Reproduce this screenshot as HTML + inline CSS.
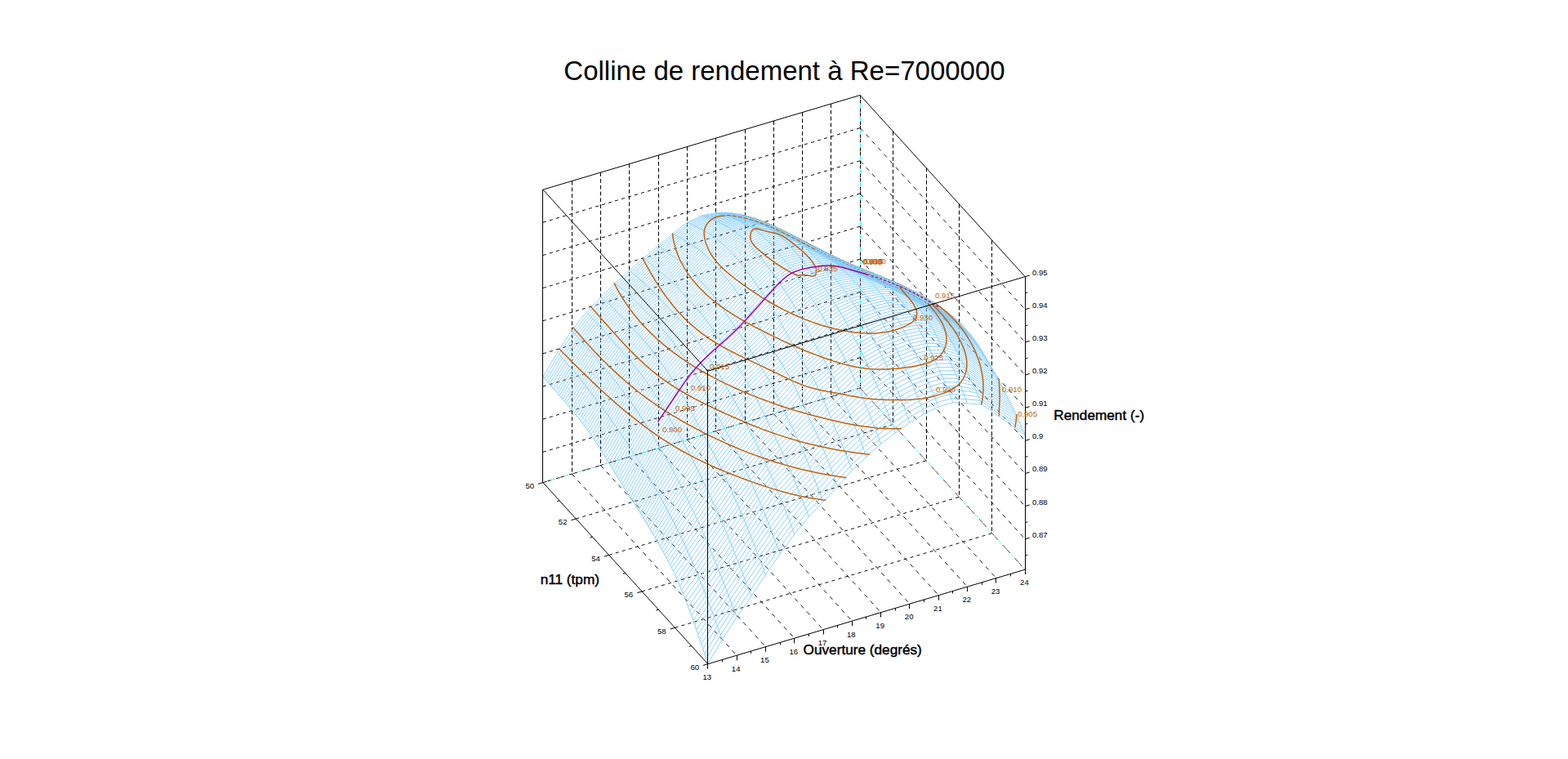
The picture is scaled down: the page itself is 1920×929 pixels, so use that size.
<!DOCTYPE html>
<html><head><meta charset="utf-8"><title>Colline de rendement</title>
<style>html,body{margin:0;padding:0;background:#fff;overflow:hidden}body{width:1920px;height:929px;position:relative;font-family:"Liberation Sans",sans-serif}</style></head>
<body>
<svg width="1920" height="929" viewBox="0 0 1920 929" style="position:absolute;left:0;top:0">
<rect width="1920" height="929" fill="#fff"/>
<g id="grid" fill="none" stroke="#000"><path d="M700.2 580.1L902.1 802.2" stroke-width="0.92" stroke-dasharray="5.27 5.54"/><path d="M735.5 569.6L937.4 791.7" stroke-width="0.92" stroke-dasharray="5.27 5.54"/><path d="M770.8 559.1L972.7 781.2" stroke-width="0.92" stroke-dasharray="5.27 5.54"/><path d="M806.1 548.6L1008 770.7" stroke-width="0.92" stroke-dasharray="5.27 5.54"/><path d="M841.4 538.1L1043.3 760.2" stroke-width="0.92" stroke-dasharray="5.27 5.54"/><path d="M876.7 527.5L1078.6 749.6" stroke-width="0.92" stroke-dasharray="5.27 5.54"/><path d="M912 517L1113.9 739.1" stroke-width="0.92" stroke-dasharray="5.27 5.54"/><path d="M947.3 506.5L1149.2 728.6" stroke-width="0.92" stroke-dasharray="5.27 5.54"/><path d="M982.6 496L1184.5 718.1" stroke-width="0.92" stroke-dasharray="5.27 5.54"/><path d="M1017.9 485.5L1219.8 707.6" stroke-width="0.92" stroke-dasharray="5.27 5.54"/><path d="M705.3 635L1093.6 519.4" stroke-width="0.96" stroke-dasharray="4.07 4.28"/><path d="M745.7 679.4L1134 563.8" stroke-width="0.96" stroke-dasharray="4.07 4.28"/><path d="M786 723.9L1174.4 608.3" stroke-width="0.96" stroke-dasharray="4.07 4.28"/><path d="M826.4 768.3L1214.8 652.7" stroke-width="0.96" stroke-dasharray="4.07 4.28"/><path d="M700.5 221.6L700.5 580.1" stroke-width="1.0" stroke-dasharray="4.9 2.9"/><path d="M735.5 211.1L735.5 569.6" stroke-width="1.0" stroke-dasharray="4.9 2.9"/><path d="M770.5 200.6L770.5 559.1" stroke-width="1.0" stroke-dasharray="4.9 2.9"/><path d="M806.5 190.1L806.5 548.6" stroke-width="1.0" stroke-dasharray="4.9 2.9"/><path d="M841.5 179.6L841.5 538.1" stroke-width="1.0" stroke-dasharray="4.9 2.9"/><path d="M876.5 169L876.5 527.5" stroke-width="1.0" stroke-dasharray="4.9 2.9"/><path d="M912.5 158.5L912.5 517" stroke-width="1.0" stroke-dasharray="4.9 2.9"/><path d="M947.5 148L947.5 506.5" stroke-width="1.0" stroke-dasharray="4.9 2.9"/><path d="M982.5 137.5L982.5 496" stroke-width="1.0" stroke-dasharray="4.9 2.9"/><path d="M1017.5 127L1017.5 485.5" stroke-width="1.0" stroke-dasharray="4.9 2.9"/><path d="M664.9 553.3L1053.2 437.7" stroke-width="0.96" stroke-dasharray="4.07 4.28"/><path d="M664.9 513.1L1053.2 397.5" stroke-width="0.96" stroke-dasharray="4.07 4.28"/><path d="M664.9 473L1053.2 357.4" stroke-width="0.96" stroke-dasharray="4.07 4.28"/><path d="M664.9 432.8L1053.2 317.2" stroke-width="0.96" stroke-dasharray="4.07 4.28"/><path d="M664.9 392.7L1053.2 277.1" stroke-width="0.96" stroke-dasharray="4.07 4.28"/><path d="M664.9 352.5L1053.2 236.9" stroke-width="0.96" stroke-dasharray="4.07 4.28"/><path d="M664.9 312.4L1053.2 196.8" stroke-width="0.96" stroke-dasharray="4.07 4.28"/><path d="M664.9 272.2L1053.2 156.6" stroke-width="0.96" stroke-dasharray="4.07 4.28"/><path d="M1093.5 160.9L1093.5 519.4" stroke-width="1.0" stroke-dasharray="4.9 2.9"/><path d="M1134.5 205.3L1134.5 563.8" stroke-width="1.0" stroke-dasharray="4.9 2.9"/><path d="M1174.5 249.8L1174.5 608.3" stroke-width="1.0" stroke-dasharray="4.9 2.9"/><path d="M1214.5 294.2L1214.5 652.7" stroke-width="1.0" stroke-dasharray="4.9 2.9"/><path d="M1053.2 437.7L1255.2 659.8" stroke-width="0.92" stroke-dasharray="5.27 5.54"/><path d="M1053.2 397.5L1255.2 619.6" stroke-width="0.92" stroke-dasharray="5.27 5.54"/><path d="M1053.2 357.4L1255.2 579.5" stroke-width="0.92" stroke-dasharray="5.27 5.54"/><path d="M1053.2 317.2L1255.2 539.3" stroke-width="0.92" stroke-dasharray="5.27 5.54"/><path d="M1053.2 277.1L1255.2 499.2" stroke-width="0.92" stroke-dasharray="5.27 5.54"/><path d="M1053.2 236.9L1255.2 459" stroke-width="0.92" stroke-dasharray="5.27 5.54"/><path d="M1053.2 196.8L1255.2 418.9" stroke-width="0.92" stroke-dasharray="5.27 5.54"/><path d="M1053.2 156.6L1255.2 378.7" stroke-width="0.92" stroke-dasharray="5.27 5.54"/><path d="M1053.5 116.5L1053.5 475" stroke="#00ffff" stroke-width="1.0" stroke-dasharray="4.0 12.0" stroke-dashoffset="-11.0"/><path d="M1053.5 116.5L1053.5 475" stroke-width="1.0" stroke-dasharray="4.6 0.8 4.6 6.0"/><path d="M664.9 590.6L1053.2 475" stroke="#00ffff" stroke-width="0.96" stroke-dasharray="4.17 12.52" stroke-dashoffset="-11.48"/><path d="M664.9 590.6L1053.2 475" stroke-width="0.96" stroke-dasharray="4.8 0.83 4.8 6.26"/><path d="M1053.2 475L1255.2 697.1" stroke="#00ffff" stroke-width="0.74" stroke-dasharray="5.41 16.22" stroke-dashoffset="-14.87"/><path d="M1053.2 475L1255.2 697.1" stroke-width="0.74" stroke-dasharray="6.22 1.08 6.22 8.11"/></g>
<g id="mesh" fill="none" stroke="#87ceff" stroke-linejoin="round">
<path d="M664.9 461.2L682.6 431.2L700.2 404.5L717.9 382.4L735.5 363.9L753.2 346.9L770.8 331.3L788.5 315.7L806.1 300.9L823.8 286.2L841.4 272.2L859.1 264L876.7 260.9L894.4 261L912 264.4L929.7 270.8L947.3 278.4L965 287.7L982.6 297.1L1000.3 307.1L1053.2 335.1M666.9 463.5L684.6 433.6L702.2 406.8L719.9 384.4L737.5 365.6L755.2 348.5L772.8 332.9L790.5 317.3L808.1 302.3L825.8 287.1L843.4 273.2L861.1 264.6L878.7 261.3L896.4 261.4L914.1 265L931.7 271.5L949.4 279.3L967 288.6L984.7 298.1L1002.3 308.2L1055.3 336M668.9 465.8L686.6 436L704.2 409L721.9 386.4L739.5 367.3L757.2 350L774.9 334.5L792.5 319L810.2 303.7L827.8 288.1L845.5 274.2L863.1 265.3L880.8 261.7L898.4 261.9L916.1 265.5L933.7 272.2L951.4 280.3L969 289.6L986.7 299.1L1004.3 309.3L1057.3 336.9M671 468.1L688.6 438.4L706.3 411.3L723.9 388.4L741.6 369L759.2 351.6L776.9 336.2L794.5 320.7L812.2 305.1L829.8 289.2L847.5 275.2L865.1 266L882.8 262.1L900.4 262.4L918.1 266L935.7 273L953.4 281.2L971 290.6L988.7 300.1L1006.4 310.4L1059.3 337.9M673 470.5L690.6 440.7L708.3 413.5L725.9 390.5L743.6 370.7L761.2 353.3L778.9 337.9L796.5 322.4L814.2 306.5L831.8 290.3L849.5 276.2L867.2 266.7L884.8 262.5L902.5 262.9L920.1 266.6L937.8 273.7L955.4 282.1L973.1 291.5L990.7 301.1L1008.4 311.5L1061.3 338.8M675 472.8L692.6 443.1L710.3 415.7L728 392.5L745.6 372.5L763.3 354.9L780.9 339.6L798.6 324.1L816.2 307.9L833.9 291.4L851.5 277.1L869.2 267.4L886.8 263L904.5 263.4L922.1 267.2L939.8 274.4L957.4 283L975.1 292.5L992.7 302.2L1010.4 312.6L1063.3 339.7M677 475.1L694.7 445.5L712.3 418L730 394.6L747.6 374.3L765.3 356.6L782.9 341.3L800.6 325.8L818.2 309.3L835.9 292.6L853.5 278.1L871.2 268.1L888.8 263.5L906.5 263.9L924.1 267.9L941.8 275.1L959.5 284L977.1 293.5L994.8 303.2L1012.4 313.7L1065.4 340.7M679 477.4L696.7 447.8L714.3 420.2L732 396.7L749.6 376.1L767.3 358.3L784.9 343.1L802.6 327.5L820.3 310.8L837.9 293.8L855.6 279.1L873.2 268.9L890.9 264.1L908.5 264.5L926.2 268.6L943.8 275.8L961.5 284.9L979.1 294.4L996.8 304.3L1014.4 314.8L1067.4 341.6M681.1 479.7L698.7 450.1L716.4 422.4L734 398.8L751.7 378L769.3 360.1L787 344.9L804.6 329.2L822.3 312.2L839.9 295L857.6 280.1L875.2 269.8L892.9 264.8L910.5 265.2L928.2 269.3L945.8 276.6L963.5 285.8L981.1 295.4L998.8 305.3L1016.4 315.8L1069.4 342.5M683.1 481.9L700.7 452.3L718.4 424.7L736 401L753.7 379.9L771.3 361.9L789 346.7L806.6 331L824.3 313.6L841.9 296.2L859.6 281.2L877.2 270.7L894.9 265.6L912.6 265.8L930.2 270L947.9 277.4L965.5 286.7L983.2 296.3L1000.8 306.4L1018.5 316.9L1071.4 343.4M685.1 484.2L702.7 454.6L720.4 427L738 403.3L755.7 381.8L773.4 363.7L791 348.6L808.7 332.7L826.3 315.1L844 297.4L861.6 282.2L879.3 271.6L896.9 266.4L914.6 266.5L932.2 270.8L949.9 278.2L967.5 287.7L985.2 297.3L1002.8 307.5L1020.5 317.9L1073.4 344.3M687.1 486.4L704.8 456.9L722.4 429.2L740.1 405.5L757.7 383.9L775.4 365.5L793 350.4L810.7 334.4L828.3 316.5L846 298.7L863.6 283.4L881.3 272.6L898.9 267.2L916.6 267.3L934.2 271.6L951.9 279L969.5 288.6L987.2 298.3L1004.8 308.5L1022.5 319L1075.5 345.2M689.1 488.7L706.8 459.2L724.4 431.5L742.1 407.9L759.7 385.9L777.4 367.5L795 352.3L812.7 336.1L830.3 318L848 300L865.7 284.5L883.3 273.6L901 268.1L918.6 268L936.3 272.4L953.9 279.9L971.6 289.5L989.2 299.2L1006.9 309.6L1024.5 320L1077.5 346.1M691.1 491L708.8 461.5L726.5 433.8L744.1 410.2L761.8 388.1L779.4 369.4L797.1 354.3L814.7 337.9L832.4 319.5L850 301.4L867.7 285.7L885.3 274.7L903 269L920.6 268.8L938.3 273.3L955.9 280.9L973.6 290.4L991.2 300.2L1008.9 310.6L1026.5 321L1079.5 347M693.2 493.3L710.8 464L728.5 436.1L746.1 412.6L763.8 390.3L781.4 371.5L799.1 356.2L816.7 339.7L834.4 321.1L852 302.8L869.7 287L887.3 275.8L905 269.9L922.6 269.7L940.3 274.1L958 281.9L975.6 291.4L993.3 301.2L1010.9 311.7L1028.6 322L1081.5 347.9M695.2 495.7L712.8 466.5L730.5 438.5L748.1 414.9L765.8 392.5L783.4 373.6L801.1 358.3L818.8 341.5L836.4 322.7L854.1 304.2L871.7 288.3L889.4 276.9L907 270.9L924.7 270.6L942.3 275L960 282.8L977.6 292.3L995.3 302.3L1012.9 312.7L1030.6 323L1083.5 348.8M697.2 498.1L714.9 469.1L732.5 441L750.2 417.3L767.8 394.7L785.5 375.7L803.1 360.3L820.8 343.4L838.4 324.3L856.1 305.8L873.7 289.8L891.4 278.1L909 271.9L926.7 271.5L944.3 276L962 283.8L979.6 293.2L997.3 303.3L1014.9 313.8L1032.6 324L1085.6 349.7M699.2 500.5L716.9 471.7L734.5 443.5L752.2 419.6L769.8 396.9L787.5 377.8L805.1 362.4L822.8 345.3L840.4 326.1L858.1 307.4L875.7 291.2L893.4 279.4L911.1 272.9L928.7 272.4L946.4 276.9L964 284.9L981.7 294.2L999.3 304.3L1017 314.8L1034.6 324.9L1087.6 350.6M701.2 503L718.9 474.4L736.5 446L754.2 421.8L771.9 399L789.5 379.9L807.2 364.5L824.8 347.3L842.5 327.9L860.1 309.1L877.8 292.8L895.4 280.7L913.1 274L930.7 273.4L948.4 277.9L966 285.9L983.7 295.1L1001.3 305.3L1019 315.8L1036.6 325.8L1089.6 351.5M703.3 505.5L720.9 477.1L738.6 448.5L756.2 424L773.9 401.1L791.5 382L809.2 366.7L826.8 349.3L844.5 329.8L862.1 310.9L879.8 294.4L897.4 282L915.1 275.1L932.7 274.4L950.4 278.9L968 286.9L985.7 296.1L1003.3 306.3L1021 316.7L1038.7 326.7L1091.6 352.4M705.3 508L722.9 479.9L740.6 451L758.2 426.2L775.9 403.1L793.5 384.1L811.2 368.8L828.8 351.4L846.5 331.8L864.2 312.7L881.8 296L899.5 283.5L917.1 276.3L934.8 275.5L952.4 279.9L970.1 287.9L987.7 297.1L1005.4 307.3L1023 317.7L1040.7 327.5L1093.6 353.3M707.3 510.6L725 482.7L742.6 453.4L760.3 428.3L777.9 405.2L795.6 386.2L813.2 370.9L830.9 353.4L848.5 333.8L866.2 314.6L883.8 297.8L901.5 284.9L919.1 277.5L936.8 276.6L954.4 280.9L972.1 288.9L989.7 298.1L1007.4 308.3L1025 318.7L1042.7 328.3L1095.6 354.2M709.3 513.1L727 485.4L744.6 455.9L762.3 430.5L779.9 407.3L797.6 388.2L815.2 373L832.9 355.5L850.5 336L868.2 316.6L885.8 299.6L903.5 286.5L921.1 278.9L938.8 277.7L956.4 281.9L974.1 289.9L991.8 299.1L1009.4 309.3L1027.1 319.6L1044.7 329.1L1097.7 355.1M711.3 515.7L729 488L746.6 458.3L764.3 432.8L781.9 409.4L799.6 390.4L817.3 375.1L834.9 357.7L852.6 338.1L870.2 318.6L887.9 301.4L905.5 288.2L923.2 280.3L940.8 278.9L958.5 283L976.1 290.9L993.8 300.1L1011.4 310.3L1029.1 320.6L1046.7 329.9L1099.7 356M713.4 518.4L731 490.7L748.7 460.9L766.3 435.1L784 411.7L801.6 392.5L819.3 377.2L836.9 359.8L854.6 340.4L872.2 320.7L889.9 303.4L907.5 289.9L925.2 281.7L942.8 280.1L960.5 284.1L978.1 291.9L995.8 301.1L1013.4 311.3L1031.1 321.5L1048.7 330.7L1101.7 356.9M715.4 521L733 493.3L750.7 463.4L768.3 437.4L786 413.9L803.6 394.8L821.3 379.4L838.9 362L856.6 342.6L874.2 322.8L891.9 305.4L909.6 291.7L927.2 283.3L944.9 281.4L962.5 285.3L980.2 293L997.8 302.2L1015.5 312.2L1033.1 322.4L1050.8 331.5L1103.7 357.9M717.4 523.7L735 495.9L752.7 466L770.4 439.8L788 416.3L805.7 397L823.3 381.5L841 364.2L858.6 344.9L876.3 325L893.9 307.4L911.6 293.6L929.2 285L946.9 282.8L964.5 286.5L982.2 294L999.8 303.2L1017.5 313.1L1035.1 323.2L1052.8 332.2L1105.7 359M719.4 526.4L737.1 498.6L754.7 468.6L772.4 442.2L790 418.7L807.7 399.3L825.3 383.7L843 366.3L860.6 347.2L878.3 327.2L895.9 309.5L913.6 295.6L931.2 286.8L948.9 284.3L966.5 287.7L984.2 295.1L1001.8 304.2L1019.5 314L1037.2 324.1L1054.8 333L1107.8 360.2M721.4 529.2L739.1 501.2L756.7 471.2L774.4 444.6L792 421.1L809.7 401.5L827.3 385.8L845 368.5L862.7 349.4L880.3 329.5L898 311.7L915.6 297.6L933.3 288.7L950.9 285.8L968.6 289L986.2 296.2L1003.9 305.3L1021.5 314.9L1039.2 324.9L1056.8 333.8L1109.8 361.5M723.5 532.1L741.1 503.9L758.8 473.8L776.4 447L794.1 423.6L811.7 403.8L829.4 387.9L847 370.7L864.7 351.7L882.3 331.8L900 313.9L917.6 299.7L935.3 290.6L952.9 287.4L970.6 290.4L988.2 297.4L1005.9 306.3L1023.5 315.8L1041.2 325.6L1058.8 334.6L1111.8 362.7M725.5 535L743.1 506.6L760.8 476.3L778.4 449.5L796.1 426.1L813.7 406.2L831.4 390L849 372.9L866.7 354L884.3 334.1L902 316.2L919.6 301.9L937.3 292.7L954.9 289.1L972.6 291.8L990.3 298.6L1007.9 307.3L1025.6 316.6L1043.2 326.4L1060.9 335.4L1113.8 364M727.5 538L745.1 509.3L762.8 478.8L780.4 452.1L798.1 428.7L815.8 408.5L833.4 392.1L851.1 375.1L868.7 356.3L886.4 336.5L904 318.5L921.7 304.2L939.3 294.7L957 290.9L974.6 293.3L992.3 299.8L1009.9 308.4L1027.6 317.5L1045.2 327.1L1062.9 336.2L1115.8 365.2M729.5 541L747.2 511.9L764.8 481.4L782.5 454.7L800.1 431.3L817.8 411L835.4 394.3L853.1 377.3L870.7 358.7L888.4 339L906 320.9L923.7 306.5L941.3 296.9L959 292.8L976.6 294.8L994.3 301L1011.9 309.4L1029.6 318.3L1047.2 327.8L1064.9 336.9L1117.9 366.4M731.5 544.1L749.2 514.7L766.8 484.1L784.5 457.3L802.1 434L819.8 413.4L837.4 396.5L855.1 379.6L872.7 361.1L890.4 341.4L908 323.3L925.7 308.8L943.4 299L961 294.7L978.7 296.5L996.3 302.3L1014 310.4L1031.6 319.2L1049.3 328.5L1066.9 337.7L1119.9 367.6M733.5 547.3L751.2 517.5L768.9 486.9L786.5 460L804.2 436.6L821.8 415.9L839.5 398.8L857.1 382L874.8 363.6L892.4 344L910.1 325.8L927.7 311.2L945.4 301.3L963 296.8L980.7 298.2L998.3 303.7L1016 311.5L1033.6 320L1051.3 329.1L1068.9 338.4L1121.9 368.8M735.6 550.4L753.2 520.3L770.9 489.8L788.5 462.7L806.2 439.3L823.8 418.4L841.5 401.2L859.1 384.4L876.8 366.2L894.4 346.6L912.1 328.3L929.7 313.6L947.4 303.5L965 298.9L982.7 299.9L1000.3 305.1L1018 312.5L1035.7 320.8L1053.3 329.8L1071 339.2L1123.9 370M737.6 553.7L755.2 523.2L772.9 492.6L790.5 465.5L808.2 442.1L825.8 421L843.5 403.7L861.1 386.9L878.8 368.9L896.5 349.2L914.1 330.9L931.8 316L949.4 305.8L967.1 301L984.7 301.8L1002.4 306.5L1020 313.5L1037.7 321.6L1055.3 330.4L1073 339.9L1125.9 371.2M739.6 556.9L757.3 526.1L774.9 495.6L792.6 468.4L810.2 444.9L827.9 423.7L845.5 406.2L863.2 389.5L880.8 371.7L898.5 352L916.1 333.5L933.8 318.5L951.4 308.1L969.1 303.3L986.7 303.7L1004.4 307.9L1022 314.6L1039.7 322.4L1057.3 331.1L1075 340.6L1128 372.3M741.6 560.2L759.3 529L776.9 498.5L794.6 471.3L812.2 447.7L829.9 426.5L847.5 408.8L865.2 392.2L882.8 374.5L900.5 354.9L918.1 336.3L935.8 321L953.4 310.5L971.1 305.5L988.8 305.6L1006.4 309.4L1024.1 315.6L1041.7 323.3L1059.4 331.7L1077 341.3L1130 373.5M743.6 563.5L761.3 532L778.9 501.5L796.6 474.3L814.3 450.7L831.9 429.4L849.6 411.5L867.2 394.9L884.9 377.5L902.5 357.8L920.2 339L937.8 323.5L955.5 312.8L973.1 307.8L990.8 307.6L1008.4 310.9L1026.1 316.7L1043.7 324.1L1061.4 332.4L1079 341.9L1132 374.8M745.7 566.8L763.3 535L781 504.5L798.6 477.4L816.3 453.6L833.9 432.3L851.6 414.2L869.2 397.7L886.9 380.4L904.5 360.8L922.2 341.9L939.8 326.1L957.5 315.2L975.1 310.1L992.8 309.7L1010.4 312.4L1028.1 317.8L1045.7 324.9L1063.4 333L1081.1 342.6L1134 376M747.7 570.1L765.3 538L783 507.5L800.6 480.6L818.3 456.5L835.9 435.2L853.6 417L871.2 400.5L888.9 383.4L906.5 363.8L924.2 344.7L941.9 328.7L959.5 317.6L977.2 312.5L994.8 311.7L1012.5 314L1030.1 318.9L1047.8 325.7L1065.4 333.7L1083.1 343.2L1136 377.3M749.7 573.4L767.4 541.1L785 510.6L802.7 483.8L820.3 459.5L838 438.2L855.6 419.9L873.3 403.4L890.9 386.4L908.6 366.9L926.2 347.6L943.9 331.3L961.5 320L979.2 314.9L996.8 313.8L1014.5 315.6L1032.1 320.1L1049.8 326.6L1067.4 334.4L1085.1 343.8L1138 378.7M751.7 576.7L769.4 544.2L787 513.7L804.7 487.1L822.3 462.5L840 441.1L857.6 422.8L875.3 406.4L892.9 389.4L910.6 370L928.2 350.6L945.9 334L963.5 322.5L981.2 317.3L998.8 315.8L1016.5 317.2L1034.2 321.2L1051.8 327.4L1069.5 335.1L1087.1 344.4L1140.1 379.9M753.7 580L771.4 547.3L789 516.8L806.7 490.3L824.3 465.5L842 444.1L859.6 425.7L877.3 409.3L895 392.4L912.6 373.1L930.3 353.6L947.9 336.8L965.6 325L983.2 319.7L1000.9 317.9L1018.5 318.8L1036.2 322.4L1053.8 328.3L1071.5 335.8L1089.1 344.9L1142.1 381M755.8 583.2L773.4 550.4L791.1 519.9L808.7 493.7L826.4 468.6L844 447.1L861.7 428.7L879.3 412.3L897 395.4L914.6 376.3L932.3 356.6L949.9 339.6L967.6 327.6L985.2 322.1L1002.9 320.1L1020.5 320.5L1038.2 323.7L1055.8 329.2L1073.5 336.5L1091.1 345.4L1144.1 381.8M757.8 586.5L775.4 553.5L793.1 523L810.7 497L828.4 471.7L846 450.1L863.7 431.7L881.3 415.3L899 398.4L916.6 379.4L934.3 359.6L951.9 342.4L969.6 330.2L987.3 324.6L1004.9 322.2L1022.6 322.2L1040.2 324.9L1057.9 330.1L1075.5 337.3L1093.2 345.8L1146.1 382.3M759.8 589.8L777.4 556.7L795.1 526.2L812.7 500.3L830.4 474.9L848.1 453.2L865.7 434.8L883.4 418.2L901 401.4L918.7 382.6L936.3 362.7L954 345.3L971.6 332.9L989.3 327.1L1006.9 324.3L1024.6 323.9L1042.2 326.2L1059.9 331.1L1077.5 338L1095.2 346.2L1148.1 382.5M761.8 593L779.5 559.9L797.1 529.4L814.8 503.7L832.4 478.1L850.1 456.4L867.7 437.9L885.4 421.2L903 404.4L920.7 385.8L938.3 365.7L956 348.3L973.6 335.7L991.3 329.6L1008.9 326.4L1026.6 325.6L1044.2 327.5L1061.9 332.1L1079.6 338.8L1097.2 346.6L1150.2 382.3M763.8 596.3L781.5 563.1L799.1 532.6L816.8 507L834.4 481.5L852.1 459.6L869.7 441L887.4 424.2L905 407.4L922.7 388.9L940.4 368.9L958 351.3L975.7 338.5L993.3 332.1L1011 328.6L1028.6 327.4L1046.3 328.9L1063.9 333.1L1081.6 339.6L1099.2 347L1152.2 381.8M765.9 599.5L783.5 566.3L801.2 535.9L818.8 510.4L836.5 484.9L854.1 463L871.8 444.2L889.4 427.1L907.1 410.4L924.7 392.2L942.4 372.1L960 354.3L977.7 341.4L995.3 334.6L1013 330.7L1030.6 329.2L1048.3 330.3L1065.9 334.1L1083.6 340.4L1101.2 347.6L1154.2 381.5M767.9 602.7L785.5 569.6L803.2 539.2L820.8 513.8L838.5 488.4L856.1 466.4L873.8 447.4L891.4 430.1L909.1 413.4L926.7 395.4L944.4 375.3L962 357.4L979.7 344.3L997.3 337.1L1015 332.9L1032.7 331L1050.3 331.8L1068 335.2L1085.6 341.2L1103.3 348.4L1156.2 382.1M769.9 605.9L787.5 572.9L805.2 542.5L822.8 517.2L840.5 492.2L858.1 470L875.8 450.7L893.5 433L911.1 416.4L928.8 398.7L946.4 378.6L964.1 360.6L981.7 347.2L999.4 339.6L1017 335L1034.7 332.9L1052.3 333.3L1070 336.4L1087.6 342L1105.3 349.4L1158.2 383M771.9 609.1L789.6 576.2L807.2 545.9L824.9 520.7L842.5 496L860.2 473.7L877.8 454L895.5 436.1L913.1 419.5L930.8 402L948.4 382L966.1 363.8L983.7 350.2L1001.4 342.2L1019 337.2L1036.7 334.8L1054.3 334.9L1072 337.6L1089.6 342.9L1107.3 350.5L1160.3 384.4M773.9 612.2L791.6 579.5L809.2 549.4L826.9 524.2L844.5 500L862.2 477.5L879.8 457.4L897.5 439.1L915.1 422.7L932.8 405.3L950.4 385.4L968.1 367L985.8 353.2L1003.4 344.8L1021.1 339.5L1038.7 336.7L1056.4 336.5L1074 338.9L1091.7 343.9L1109.3 351.7L1162.3 386M775.9 615.4L793.6 582.9L811.2 552.8L828.9 527.7L846.6 504.1L864.2 481.3L881.9 460.8L899.5 442.3L917.2 425.9L934.8 408.7L952.5 388.9L970.1 370.2L987.8 356.3L1005.4 347.4L1023.1 341.8L1040.7 338.7L1058.4 338.2L1076 340.2L1093.7 344.9L1111.3 352.8L1164.3 387.8M778 618.5L795.6 586.3L813.3 556.3L830.9 531.2L848.6 508.1L866.2 485.2L883.9 464.2L901.5 445.5L919.2 429.1L936.8 412L954.5 392.5L972.1 373.5L989.8 359.3L1007.4 350.1L1025.1 344.2L1042.7 340.8L1060.4 340L1078.1 341.6L1095.7 346L1113.4 353.9L1166.3 389.4M780 621.7L797.6 589.7L815.3 559.9L832.9 534.8L850.6 512L868.2 489.1L885.9 467.7L903.5 448.7L921.2 432.4L938.9 415.4L956.5 396L974.2 376.8L991.8 362.4L1009.5 352.8L1027.1 346.6L1044.8 343L1062.4 341.8L1080.1 343.1L1097.7 347.2L1115.4 355.1L1168.3 391.1M782 624.8L799.7 593.1L817.3 563.5L835 538.3L852.6 515.9L870.3 493.1L887.9 471.2L905.6 452L923.2 435.7L940.9 418.7L958.5 399.6L976.2 380.2L993.8 365.5L1011.5 355.6L1029.1 349.1L1046.8 345.2L1064.4 343.7L1082.1 344.8L1099.7 348.5L1117.4 356.5L1170.4 392.8M784 628L801.7 596.6L819.3 567.1L837 541.8L854.6 519.7L872.3 497L889.9 474.7L907.6 455.3L925.2 439L942.9 422.1L960.5 403.3L978.2 383.6L995.8 368.6L1013.5 358.4L1031.2 351.6L1048.8 347.5L1066.5 345.7L1084.1 346.5L1101.8 350L1119.4 358L1172.4 394.6M786 631.2L803.7 600.1L821.3 570.8L839 545.5L856.6 523.5L874.3 500.9L892 478.1L909.6 458.6L927.3 442.2L944.9 425.4L962.6 406.9L980.2 387.1L997.9 371.8L1015.5 361.3L1033.2 354.3L1050.8 349.8L1068.5 347.8L1086.1 348.3L1103.8 351.7L1121.4 359.7L1174.4 396.4M788.1 634.5L805.7 603.7L823.4 574.6L841 549.2L858.7 527.3L876.3 504.7L894 481.6L911.6 461.9L929.3 445.4L946.9 428.7L964.6 410.6L982.2 390.6L999.9 375.1L1017.5 364.3L1035.2 357L1052.8 352.3L1070.5 350L1088.1 350.3L1105.8 353.7L1123.5 361.6L1176.4 398.5M790.1 637.8L807.7 607.3L825.4 578.4L843 553L860.7 531.1L878.3 508.4L896 485.1L913.6 465.3L931.3 448.6L948.9 431.9L966.6 414.2L984.3 394.3L1001.9 378.4L1019.6 367.4L1037.2 359.8L1054.9 354.8L1072.5 352.2L1090.2 352.4L1107.8 355.8L1125.5 363.6L1178.4 400.4M792.1 641.1L809.7 610.9L827.4 582.3L845.1 556.9L862.7 534.8L880.4 512L898 488.5L915.7 468.7L933.3 451.8L951 435.1L968.6 417.9L986.3 398L1003.9 381.8L1021.6 370.5L1039.2 362.7L1056.9 357.4L1074.5 354.6L1092.2 354.5L1109.8 358L1127.5 365.7L1180.4 402.3M794.1 644.5L811.8 614.6L829.4 586.2L847.1 560.8L864.7 538.5L882.4 515.6L900 492L917.7 472.2L935.3 455.1L953 438.4L970.6 421.5L988.3 401.9L1005.9 385.2L1023.6 373.7L1041.2 365.6L1058.9 360.1L1076.6 357L1094.2 356.8L1111.9 360.4L1129.5 368.1L1182.5 404.1M796.1 647.9L813.8 618.3L831.4 590.2L849.1 564.7L866.7 542.2L884.4 519.1L902 495.6L919.7 475.9L937.4 458.4L955 441.6L972.7 425.1L990.3 405.8L1008 388.8L1025.6 377L1043.3 368.7L1060.9 363L1078.6 359.6L1096.2 359.1L1113.9 362.8L1131.5 370.5L1184.5 405.9M798.2 651.3L815.8 622L833.5 594.1L851.1 568.7L868.8 546L886.4 522.7L904.1 499.2L921.7 479.6L939.4 461.8L957 444.8L974.7 428.7L992.3 409.8L1010 392.4L1027.6 380.3L1045.3 371.8L1062.9 365.9L1080.6 362.2L1098.2 361.6L1115.9 365.3L1133.5 373L1186.5 408M800.2 654.7L817.8 625.8L835.5 598.2L853.1 572.7L870.8 549.7L888.4 526.4L906.1 503L923.7 483.4L941.4 465.3L959 448L976.7 432.2L994.3 413.8L1012 396.1L1029.7 383.8L1047.3 375.1L1065 368.9L1082.6 365L1100.3 364.1L1117.9 367.8L1135.6 375.6L1188.5 410.5M802.2 658.1L819.8 629.5L837.5 602.2L855.1 576.8L872.8 553.5L890.5 530.1L908.1 507L925.8 487.3L943.4 468.9L961.1 451.3L978.7 435.6L996.4 417.8L1014 399.8L1031.7 387.3L1049.3 378.4L1067 372L1084.6 367.8L1102.3 366.7L1119.9 370.3L1137.6 378.1L1190.5 413.2M804.2 661.6L821.9 633.4L839.5 606.3L857.2 580.9L874.8 557.3L892.5 533.9L910.1 511L927.8 491.3L945.4 472.7L963.1 454.7L980.7 439L998.4 421.7L1016 403.6L1033.7 390.9L1051.3 381.8L1069 375.2L1086.6 370.7L1104.3 369.4L1122 372.8L1139.6 380.6L1192.6 415.9M806.2 665.1L823.9 637.3L841.5 610.4L859.2 585L876.8 561.1L894.5 537.7L912.1 515.2L929.8 495.3L947.4 476.5L965.1 458.1L982.8 442.3L1000.4 425.5L1018.1 407.5L1035.7 394.5L1053.4 385.3L1071 378.5L1088.7 373.8L1106.3 372.1L1124 375.4L1141.6 383.1L1194.6 418.8M808.2 668.6L825.9 641.2L843.6 614.6L861.2 589.2L878.9 565L896.5 541.7L914.2 519.4L931.8 499.4L949.5 480.5L967.1 461.7L984.8 445.5L1002.4 429.1L1020.1 411.4L1037.7 398.2L1055.4 388.8L1073 381.9L1090.7 376.9L1108.3 375L1126 378.1L1143.6 385.7L1196.6 421.9M810.3 672.1L827.9 645.1L845.6 618.8L863.2 593.4L880.9 569L898.5 545.7L916.2 523.6L933.8 503.5L951.5 484.6L969.1 465.3L986.8 448.6L1004.4 432.8L1022.1 415.2L1039.7 402L1057.4 392.4L1075.1 385.3L1092.7 380.2L1110.4 377.9L1128 380.9L1145.7 388.4L1198.6 425M812.3 675.7L829.9 649.1L847.6 623L865.2 597.7L882.9 573.1L900.5 549.7L918.2 527.7L935.9 507.7L953.5 488.9L971.2 469.2L988.8 451.8L1006.5 436.4L1024.1 419.1L1041.8 405.8L1059.4 396.1L1077.1 388.9L1094.7 383.5L1112.4 381L1130 383.7L1147.7 391.1L1200.6 428.1M814.3 679.4L832 653.2L849.6 627.3L867.3 602L884.9 577.3L902.6 553.8L920.2 531.7L937.9 511.8L955.5 493.2L973.2 473.2L990.8 455L1008.5 439.9L1026.1 423L1043.8 409.7L1061.4 399.8L1079.1 392.5L1096.7 386.9L1114.4 384.2L1132 386.7L1149.7 393.9L1202.7 431.2M816.3 683.1L834 657.3L851.6 631.7L869.3 606.3L886.9 581.6L904.6 557.8L922.2 535.7L939.9 516L957.5 497.6L975.2 477.3L992.8 458.3L1010.5 443.5L1028.2 426.9L1045.8 413.5L1063.5 403.6L1081.1 396.2L1098.8 390.4L1116.4 387.6L1134.1 389.8L1151.7 396.8L1204.7 434.5M818.3 687L836 661.5L853.6 636L871.3 610.7L889 586L906.6 562L924.3 539.7L941.9 520.1L959.6 502L977.2 481.6L994.9 461.8L1012.5 447.1L1030.2 430.7L1047.8 417.4L1065.5 407.4L1083.1 399.9L1100.8 393.9L1118.4 391L1136.1 393L1153.7 399.9L1206.7 437.7M820.4 690.9L838 665.8L855.7 640.5L873.3 615.2L891 590.4L908.6 566.2L926.3 543.7L943.9 524.3L961.6 506.3L979.2 485.9L996.9 465.4L1014.5 450.7L1032.2 434.6L1049.8 421.3L1067.5 411.3L1085.1 403.7L1102.8 397.6L1120.5 394.5L1138.1 396.3L1155.8 403L1208.7 440.9M822.4 695L840 670.1L857.7 644.9L875.3 619.7L893 594.8L910.6 570.4L928.3 547.7L945.9 528.4L963.6 510.5L981.3 490.4L998.9 469.2L1016.6 454.5L1034.2 438.6L1051.9 425.3L1069.5 415.2L1087.2 407.5L1104.8 401.2L1122.5 398L1140.1 399.6L1157.8 406.1L1210.7 444.2M824.4 699.1L842.1 674.5L859.7 649.5L877.4 624.2L895 599.2L912.7 574.7L930.3 551.9L948 532.6L965.6 514.6L983.3 494.9L1000.9 473.3L1018.6 458.5L1036.2 442.6L1053.9 429.3L1071.5 419.1L1089.2 411.3L1106.8 405L1124.5 401.6L1142.1 403L1159.8 409.3L1212.8 447.7M826.4 703.4L844.1 679L861.7 654.1L879.4 628.8L897 603.7L914.7 579.1L932.3 556.2L950 536.7L967.6 518.6L985.3 499.4L1002.9 477.5L1020.6 462.7L1038.2 446.7L1055.9 433.3L1073.6 423.1L1091.2 415.1L1108.9 408.7L1126.5 405.3L1144.2 406.4L1161.8 412.6L1214.8 451.1M828.4 707.9L846.1 683.6L863.7 658.7L881.4 633.4L899 608.2L916.7 583.5L934.4 560.5L952 541L969.7 522.5L987.3 503.8L1005 481.9L1022.6 467.1L1040.3 450.9L1057.9 437.4L1075.6 427.1L1093.2 419L1110.9 412.6L1128.5 409L1146.2 409.9L1163.8 415.9L1216.8 454.6M830.5 712.5L848.1 688.3L865.8 663.4L883.4 638.1L901.1 612.8L918.7 588L936.4 564.9L954 545.2L971.7 526.6L989.3 508.2L1007 486.5L1024.6 471.6L1042.3 455.2L1059.9 441.5L1077.6 431.1L1095.2 423L1112.9 416.5L1130.5 412.7L1148.2 413.5L1165.9 419.3L1218.8 458.1M832.5 717.2L850.1 693L867.8 668.2L885.4 642.8L903.1 617.4L920.7 592.5L938.4 569.4L956 549.6L973.7 530.7L991.3 512.5L1009 491.2L1026.7 476.3L1044.3 459.6L1062 445.7L1079.6 435.2L1097.3 427L1114.9 420.4L1132.6 416.5L1150.2 417.1L1167.9 422.9L1220.8 461.6M834.5 722L852.1 697.8L869.8 673L887.5 647.5L905.1 622L922.8 597.1L940.4 573.8L958.1 554.1L975.7 534.9L993.4 516.8L1011 496L1028.7 480.9L1046.3 464.1L1064 450L1081.6 439.4L1099.3 431L1116.9 424.4L1134.6 420.3L1152.2 420.8L1169.9 426.5L1222.8 465.1M836.5 727L854.2 702.8L871.8 677.8L889.5 652.3L907.1 626.7L924.8 601.6L942.4 578.3L960.1 558.6L977.7 539.3L995.4 521L1013 500.9L1030.7 485.5L1048.3 468.5L1066 454.4L1083.6 443.6L1101.3 435.2L1119 428.5L1136.6 424.3L1154.3 424.5L1171.9 430.2L1224.9 469M838.5 732.1L856.2 707.7L873.8 682.8L891.5 657.2L909.1 631.4L926.8 606.2L944.4 582.8L962.1 563.3L979.8 543.8L997.4 525.3L1015.1 505.7L1032.7 490.1L1050.4 473.1L1068 458.8L1085.7 447.9L1103.3 439.4L1121 432.7L1138.6 428.3L1156.3 428.3L1173.9 434L1226.9 473M840.6 737.3L858.2 712.8L875.9 687.7L893.5 662L911.2 636.3L928.8 610.9L946.5 587.4L964.1 567.9L981.8 548.4L999.4 529.7L1017.1 510.6L1034.7 494.6L1052.4 477.6L1070 463.3L1087.7 452.3L1105.3 443.6L1123 436.9L1140.6 432.3L1158.3 432.3L1175.9 437.9L1228.9 477M842.6 742.6L860.2 717.9L877.9 692.7L895.5 667L913.2 641.1L930.8 615.6L948.5 592L966.1 572.6L983.8 553.1L1001.4 534.1L1019.1 515.4L1036.7 499.1L1054.4 482.2L1072.1 467.9L1089.7 456.7L1107.4 448L1125 441.2L1142.7 436.5L1160.3 436.3L1178 442L1230.9 481M844.6 748L862.2 723.1L879.9 697.8L897.5 672L915.2 646L932.9 620.5L950.5 596.7L968.2 577.3L985.8 557.9L1003.5 538.7L1021.1 520.2L1038.8 503.6L1056.4 486.9L1074.1 472.5L1091.7 461.2L1109.4 452.4L1127 445.6L1144.7 440.8L1162.3 440.5L1180 446L1232.9 485M846.6 753.5L864.3 728.4L881.9 702.9L899.6 677L917.2 651L934.9 625.4L952.5 601.6L970.2 582L987.8 562.8L1005.5 543.4L1023.1 525L1040.8 508.2L1058.4 491.7L1076.1 477.3L1093.7 465.8L1111.4 456.9L1129 450L1146.7 445.1L1164.4 444.9L1182 450.2L1235 488.9M848.6 759.1L866.3 733.7L883.9 708L901.6 682.1L919.2 656.1L936.9 630.4L954.5 606.5L972.2 586.7L989.8 567.8L1007.5 548.3L1025.2 529.8L1042.8 512.9L1060.5 496.5L1078.1 482.2L1095.8 470.5L1113.4 461.4L1131.1 454.5L1148.7 449.5L1166.4 449.3L1184 454.4L1237 492.9M850.6 764.8L868.3 739L886 713.2L903.6 687.2L921.3 661.2L938.9 635.5L956.6 611.5L974.2 591.5L991.9 572.8L1009.5 553.2L1027.2 534.7L1044.8 517.7L1062.5 501.5L1080.1 487.1L1097.8 475.3L1115.4 466.1L1133.1 459.1L1150.7 453.9L1168.4 453.8L1186 458.6L1239 496.9M852.7 770.6L870.3 744.4L888 718.4L905.6 692.4L923.3 666.3L940.9 640.6L958.6 616.6L976.2 596.4L993.9 577.9L1011.5 558.3L1029.2 539.6L1046.8 522.5L1064.5 506.5L1082.1 492.2L1099.8 480.2L1117.5 470.8L1135.1 463.8L1152.8 458.5L1170.4 458.5L1188.1 462.9L1241 500.9M854.7 776.5L872.3 749.9L890 723.6L907.6 697.7L925.3 671.5L942.9 645.8L960.6 621.8L978.3 601.3L995.9 583L1013.6 563.5L1031.2 544.5L1048.9 527.5L1066.5 511.6L1084.2 497.4L1101.8 485.2L1119.5 475.7L1137.1 468.5L1154.8 463L1172.4 463.2L1190.1 467.3L1243 504.9M856.7 782.4L874.4 755.3L892 728.9L909.7 702.9L927.3 676.8L945 651.1L962.6 627L980.3 606.4L997.9 588.1L1015.6 568.7L1033.2 549.5L1050.9 532.6L1068.5 516.8L1086.2 502.7L1103.8 490.3L1121.5 480.6L1139.1 473.3L1156.8 467.7L1174.4 468L1192.1 471.7L1245.1 509.2M858.7 788.3L876.4 760.8L894 734.1L911.7 708.2L929.3 682.1L947 656.4L964.6 632.4L982.3 611.5L999.9 593.3L1017.6 574L1035.2 554.6L1052.9 537.7L1070.6 522L1088.2 508L1105.9 495.5L1123.5 485.6L1141.2 478.1L1158.8 472.5L1176.5 472.9L1194.1 476.2L1247.1 513.7M860.7 794.3L878.4 766.2L896 739.4L913.7 713.6L931.4 687.4L949 661.8L966.7 637.7L984.3 616.6L1002 598.5L1019.6 579.4L1037.3 559.8L1054.9 542.9L1072.6 527.3L1090.2 513.5L1107.9 500.8L1125.5 490.8L1143.2 483L1160.8 477.4L1178.5 478L1196.1 480.8L1249.1 518.4M862.8 800.2L880.4 771.7L898.1 744.6L915.7 719L933.4 692.7L951 667.2L968.7 643.1L986.3 621.8L1004 603.7L1021.6 584.8L1039.3 565.1L1056.9 548.2L1074.6 532.6L1092.2 519L1109.9 506.2L1127.5 496L1145.2 487.9L1162.9 482.5L1180.5 483.3L1198.2 485.5L1251.1 523.1M864.8 806.2L882.4 777.2L900.1 749.9L917.7 724.4L935.4 698L953 672.6L970.7 648.5L988.3 627L1006 609L1023.7 590.2L1041.3 570.4L1059 553.6L1076.6 537.9L1094.3 524.5L1111.9 511.7L1129.6 501.3L1147.2 492.8L1164.9 487.6L1182.5 488.6L1200.2 490.2L1253.1 527.7M866.8 812.2L884.5 782.7L902.1 755.1L919.8 729.9L937.4 703.4L955.1 678L972.7 653.9L990.4 632.2L1008 614.3L1025.7 595.6L1043.3 575.7L1061 558.9L1078.6 543.2L1096.3 530.1L1113.9 517.2L1131.6 506.6L1149.2 497.8L1166.9 492.8L1184.5 494L1202.2 495L1255.2 532.4" stroke-width="0.95"/>
<path d="M664.9 461.2L666.9 463.5L668.9 465.8L671 468.1L673 470.5L675 472.8L677 475.1L679 477.4L681.1 479.7L683.1 481.9L685.1 484.2L687.1 486.4L689.1 488.7L691.1 491L693.2 493.3L695.2 495.7L697.2 498.1L699.2 500.5L701.2 503L703.3 505.5L705.3 508L707.3 510.6L709.3 513.1L711.3 515.7L713.4 518.4L715.4 521L717.4 523.7L719.4 526.4L721.4 529.2L723.5 532.1L725.5 535L727.5 538L729.5 541L731.5 544.1L733.5 547.3L735.6 550.4L737.6 553.7L739.6 556.9L741.6 560.2L743.6 563.5L745.7 566.8L747.7 570.1L749.7 573.4L751.7 576.7L753.7 580L755.8 583.2L757.8 586.5L759.8 589.8L761.8 593L763.8 596.3L765.9 599.5L767.9 602.7L769.9 605.9L771.9 609.1L773.9 612.2L775.9 615.4L778 618.5L780 621.7L782 624.8L784 628L786 631.2L788.1 634.5L790.1 637.8L792.1 641.1L794.1 644.5L796.1 647.9L798.2 651.3L800.2 654.7L802.2 658.1L804.2 661.6L806.2 665.1L808.2 668.6L810.3 672.1L812.3 675.7L814.3 679.4L816.3 683.1L818.3 687L820.4 690.9L822.4 695L824.4 699.1L826.4 703.4L828.4 707.9L830.5 712.5L832.5 717.2L834.5 722L836.5 727L838.5 732.1L840.6 737.3L842.6 742.6L844.6 748L846.6 753.5L848.6 759.1L850.6 764.8L852.7 770.6L854.7 776.5L856.7 782.4L858.7 788.3L860.7 794.3L862.8 800.2L864.8 806.2L866.8 812.2M682.6 431.2L684.6 433.6L686.6 436L688.6 438.4L690.6 440.7L692.6 443.1L694.7 445.5L696.7 447.8L698.7 450.1L700.7 452.3L702.7 454.6L704.8 456.9L706.8 459.2L708.8 461.5L710.8 464L712.8 466.5L714.9 469.1L716.9 471.7L718.9 474.4L720.9 477.1L722.9 479.9L725 482.7L727 485.4L729 488L731 490.7L733 493.3L735 495.9L737.1 498.6L739.1 501.2L741.1 503.9L743.1 506.6L745.1 509.3L747.2 511.9L749.2 514.7L751.2 517.5L753.2 520.3L755.2 523.2L757.3 526.1L759.3 529L761.3 532L763.3 535L765.3 538L767.4 541.1L769.4 544.2L771.4 547.3L773.4 550.4L775.4 553.5L777.4 556.7L779.5 559.9L781.5 563.1L783.5 566.3L785.5 569.6L787.5 572.9L789.6 576.2L791.6 579.5L793.6 582.9L795.6 586.3L797.6 589.7L799.7 593.1L801.7 596.6L803.7 600.1L805.7 603.7L807.7 607.3L809.7 610.9L811.8 614.6L813.8 618.3L815.8 622L817.8 625.8L819.8 629.5L821.9 633.4L823.9 637.3L825.9 641.2L827.9 645.1L829.9 649.1L832 653.2L834 657.3L836 661.5L838 665.8L840 670.1L842.1 674.5L844.1 679L846.1 683.6L848.1 688.3L850.1 693L852.1 697.8L854.2 702.8L856.2 707.7L858.2 712.8L860.2 717.9L862.2 723.1L864.3 728.4L866.3 733.7L868.3 739L870.3 744.4L872.3 749.9L874.4 755.3L876.4 760.8L878.4 766.2L880.4 771.7L882.4 777.2L884.5 782.7M700.2 404.5L702.2 406.8L704.2 409L706.3 411.3L708.3 413.5L710.3 415.7L712.3 418L714.3 420.2L716.4 422.4L718.4 424.7L720.4 427L722.4 429.2L724.4 431.5L726.5 433.8L728.5 436.1L730.5 438.5L732.5 441L734.5 443.5L736.5 446L738.6 448.5L740.6 451L742.6 453.4L744.6 455.9L746.6 458.3L748.7 460.9L750.7 463.4L752.7 466L754.7 468.6L756.7 471.2L758.8 473.8L760.8 476.3L762.8 478.8L764.8 481.4L766.8 484.1L768.9 486.9L770.9 489.8L772.9 492.6L774.9 495.6L776.9 498.5L778.9 501.5L781 504.5L783 507.5L785 510.6L787 513.7L789 516.8L791.1 519.9L793.1 523L795.1 526.2L797.1 529.4L799.1 532.6L801.2 535.9L803.2 539.2L805.2 542.5L807.2 545.9L809.2 549.4L811.2 552.8L813.3 556.3L815.3 559.9L817.3 563.5L819.3 567.1L821.3 570.8L823.4 574.6L825.4 578.4L827.4 582.3L829.4 586.2L831.4 590.2L833.5 594.1L835.5 598.2L837.5 602.2L839.5 606.3L841.5 610.4L843.6 614.6L845.6 618.8L847.6 623L849.6 627.3L851.6 631.7L853.6 636L855.7 640.5L857.7 644.9L859.7 649.5L861.7 654.1L863.7 658.7L865.8 663.4L867.8 668.2L869.8 673L871.8 677.8L873.8 682.8L875.9 687.7L877.9 692.7L879.9 697.8L881.9 702.9L883.9 708L886 713.2L888 718.4L890 723.6L892 728.9L894 734.1L896 739.4L898.1 744.6L900.1 749.9L902.1 755.1M717.9 382.4L719.9 384.4L721.9 386.4L723.9 388.4L725.9 390.5L728 392.5L730 394.6L732 396.7L734 398.8L736 401L738 403.3L740.1 405.5L742.1 407.9L744.1 410.2L746.1 412.6L748.1 414.9L750.2 417.3L752.2 419.6L754.2 421.8L756.2 424L758.2 426.2L760.3 428.3L762.3 430.5L764.3 432.8L766.3 435.1L768.3 437.4L770.4 439.8L772.4 442.2L774.4 444.6L776.4 447L778.4 449.5L780.4 452.1L782.5 454.7L784.5 457.3L786.5 460L788.5 462.7L790.5 465.5L792.6 468.4L794.6 471.3L796.6 474.3L798.6 477.4L800.6 480.6L802.7 483.8L804.7 487.1L806.7 490.3L808.7 493.7L810.7 497L812.7 500.3L814.8 503.7L816.8 507L818.8 510.4L820.8 513.8L822.8 517.2L824.9 520.7L826.9 524.2L828.9 527.7L830.9 531.2L832.9 534.8L835 538.3L837 541.8L839 545.5L841 549.2L843 553L845.1 556.9L847.1 560.8L849.1 564.7L851.1 568.7L853.1 572.7L855.1 576.8L857.2 580.9L859.2 585L861.2 589.2L863.2 593.4L865.2 597.7L867.3 602L869.3 606.3L871.3 610.7L873.3 615.2L875.3 619.7L877.4 624.2L879.4 628.8L881.4 633.4L883.4 638.1L885.4 642.8L887.5 647.5L889.5 652.3L891.5 657.2L893.5 662L895.5 667L897.5 672L899.6 677L901.6 682.1L903.6 687.2L905.6 692.4L907.6 697.7L909.7 702.9L911.7 708.2L913.7 713.6L915.7 719L917.7 724.4L919.8 729.9M735.5 363.9L737.5 365.6L739.5 367.3L741.6 369L743.6 370.7L745.6 372.5L747.6 374.3L749.6 376.1L751.7 378L753.7 379.9L755.7 381.8L757.7 383.9L759.7 385.9L761.8 388.1L763.8 390.3L765.8 392.5L767.8 394.7L769.8 396.9L771.9 399L773.9 401.1L775.9 403.1L777.9 405.2L779.9 407.3L781.9 409.4L784 411.7L786 413.9L788 416.3L790 418.7L792 421.1L794.1 423.6L796.1 426.1L798.1 428.7L800.1 431.3L802.1 434L804.2 436.6L806.2 439.3L808.2 442.1L810.2 444.9L812.2 447.7L814.3 450.7L816.3 453.6L818.3 456.5L820.3 459.5L822.3 462.5L824.3 465.5L826.4 468.6L828.4 471.7L830.4 474.9L832.4 478.1L834.4 481.5L836.5 484.9L838.5 488.4L840.5 492.2L842.5 496L844.5 500L846.6 504.1L848.6 508.1L850.6 512L852.6 515.9L854.6 519.7L856.6 523.5L858.7 527.3L860.7 531.1L862.7 534.8L864.7 538.5L866.7 542.2L868.8 546L870.8 549.7L872.8 553.5L874.8 557.3L876.8 561.1L878.9 565L880.9 569L882.9 573.1L884.9 577.3L886.9 581.6L889 586L891 590.4L893 594.8L895 599.2L897 603.7L899 608.2L901.1 612.8L903.1 617.4L905.1 622L907.1 626.7L909.1 631.4L911.2 636.3L913.2 641.1L915.2 646L917.2 651L919.2 656.1L921.3 661.2L923.3 666.3L925.3 671.5L927.3 676.8L929.3 682.1L931.4 687.4L933.4 692.7L935.4 698L937.4 703.4M753.2 346.9L755.2 348.5L757.2 350L759.2 351.6L761.2 353.3L763.3 354.9L765.3 356.6L767.3 358.3L769.3 360.1L771.3 361.9L773.4 363.7L775.4 365.5L777.4 367.5L779.4 369.4L781.4 371.5L783.4 373.6L785.5 375.7L787.5 377.8L789.5 379.9L791.5 382L793.5 384.1L795.6 386.2L797.6 388.2L799.6 390.4L801.6 392.5L803.6 394.8L805.7 397L807.7 399.3L809.7 401.5L811.7 403.8L813.7 406.2L815.8 408.5L817.8 411L819.8 413.4L821.8 415.9L823.8 418.4L825.8 421L827.9 423.7L829.9 426.5L831.9 429.4L833.9 432.3L835.9 435.2L838 438.2L840 441.1L842 444.1L844 447.1L846 450.1L848.1 453.2L850.1 456.4L852.1 459.6L854.1 463L856.1 466.4L858.1 470L860.2 473.7L862.2 477.5L864.2 481.3L866.2 485.2L868.2 489.1L870.3 493.1L872.3 497L874.3 500.9L876.3 504.7L878.3 508.4L880.4 512L882.4 515.6L884.4 519.1L886.4 522.7L888.4 526.4L890.5 530.1L892.5 533.9L894.5 537.7L896.5 541.7L898.5 545.7L900.5 549.7L902.6 553.8L904.6 557.8L906.6 562L908.6 566.2L910.6 570.4L912.7 574.7L914.7 579.1L916.7 583.5L918.7 588L920.7 592.5L922.8 597.1L924.8 601.6L926.8 606.2L928.8 610.9L930.8 615.6L932.9 620.5L934.9 625.4L936.9 630.4L938.9 635.5L940.9 640.6L942.9 645.8L945 651.1L947 656.4L949 661.8L951 667.2L953 672.6L955.1 678M770.8 331.3L772.8 332.9L774.9 334.5L776.9 336.2L778.9 337.9L780.9 339.6L782.9 341.3L784.9 343.1L787 344.9L789 346.7L791 348.6L793 350.4L795 352.3L797.1 354.3L799.1 356.2L801.1 358.3L803.1 360.3L805.1 362.4L807.2 364.5L809.2 366.7L811.2 368.8L813.2 370.9L815.2 373L817.3 375.1L819.3 377.2L821.3 379.4L823.3 381.5L825.3 383.7L827.3 385.8L829.4 387.9L831.4 390L833.4 392.1L835.4 394.3L837.4 396.5L839.5 398.8L841.5 401.2L843.5 403.7L845.5 406.2L847.5 408.8L849.6 411.5L851.6 414.2L853.6 417L855.6 419.9L857.6 422.8L859.6 425.7L861.7 428.7L863.7 431.7L865.7 434.8L867.7 437.9L869.7 441L871.8 444.2L873.8 447.4L875.8 450.7L877.8 454L879.8 457.4L881.9 460.8L883.9 464.2L885.9 467.7L887.9 471.2L889.9 474.7L892 478.1L894 481.6L896 485.1L898 488.5L900 492L902 495.6L904.1 499.2L906.1 503L908.1 507L910.1 511L912.1 515.2L914.2 519.4L916.2 523.6L918.2 527.7L920.2 531.7L922.2 535.7L924.3 539.7L926.3 543.7L928.3 547.7L930.3 551.9L932.3 556.2L934.4 560.5L936.4 564.9L938.4 569.4L940.4 573.8L942.4 578.3L944.4 582.8L946.5 587.4L948.5 592L950.5 596.7L952.5 601.6L954.5 606.5L956.6 611.5L958.6 616.6L960.6 621.8L962.6 627L964.6 632.4L966.7 637.7L968.7 643.1L970.7 648.5L972.7 653.9M788.5 315.7L790.5 317.3L792.5 319L794.5 320.7L796.5 322.4L798.6 324.1L800.6 325.8L802.6 327.5L804.6 329.2L806.6 331L808.7 332.7L810.7 334.4L812.7 336.1L814.7 337.9L816.7 339.7L818.8 341.5L820.8 343.4L822.8 345.3L824.8 347.3L826.8 349.3L828.8 351.4L830.9 353.4L832.9 355.5L834.9 357.7L836.9 359.8L838.9 362L841 364.2L843 366.3L845 368.5L847 370.7L849 372.9L851.1 375.1L853.1 377.3L855.1 379.6L857.1 382L859.1 384.4L861.1 386.9L863.2 389.5L865.2 392.2L867.2 394.9L869.2 397.7L871.2 400.5L873.3 403.4L875.3 406.4L877.3 409.3L879.3 412.3L881.3 415.3L883.4 418.2L885.4 421.2L887.4 424.2L889.4 427.1L891.4 430.1L893.5 433L895.5 436.1L897.5 439.1L899.5 442.3L901.5 445.5L903.5 448.7L905.6 452L907.6 455.3L909.6 458.6L911.6 461.9L913.6 465.3L915.7 468.7L917.7 472.2L919.7 475.9L921.7 479.6L923.7 483.4L925.8 487.3L927.8 491.3L929.8 495.3L931.8 499.4L933.8 503.5L935.9 507.7L937.9 511.8L939.9 516L941.9 520.1L943.9 524.3L945.9 528.4L948 532.6L950 536.7L952 541L954 545.2L956 549.6L958.1 554.1L960.1 558.6L962.1 563.3L964.1 567.9L966.1 572.6L968.2 577.3L970.2 582L972.2 586.7L974.2 591.5L976.2 596.4L978.3 601.3L980.3 606.4L982.3 611.5L984.3 616.6L986.3 621.8L988.3 627L990.4 632.2M806.1 300.9L808.1 302.3L810.2 303.7L812.2 305.1L814.2 306.5L816.2 307.9L818.2 309.3L820.3 310.8L822.3 312.2L824.3 313.6L826.3 315.1L828.3 316.5L830.3 318L832.4 319.5L834.4 321.1L836.4 322.7L838.4 324.3L840.4 326.1L842.5 327.9L844.5 329.8L846.5 331.8L848.5 333.8L850.5 336L852.6 338.1L854.6 340.4L856.6 342.6L858.6 344.9L860.6 347.2L862.7 349.4L864.7 351.7L866.7 354L868.7 356.3L870.7 358.7L872.7 361.1L874.8 363.6L876.8 366.2L878.8 368.9L880.8 371.7L882.8 374.5L884.9 377.5L886.9 380.4L888.9 383.4L890.9 386.4L892.9 389.4L895 392.4L897 395.4L899 398.4L901 401.4L903 404.4L905 407.4L907.1 410.4L909.1 413.4L911.1 416.4L913.1 419.5L915.1 422.7L917.2 425.9L919.2 429.1L921.2 432.4L923.2 435.7L925.2 439L927.3 442.2L929.3 445.4L931.3 448.6L933.3 451.8L935.3 455.1L937.4 458.4L939.4 461.8L941.4 465.3L943.4 468.9L945.4 472.7L947.4 476.5L949.5 480.5L951.5 484.6L953.5 488.9L955.5 493.2L957.5 497.6L959.6 502L961.6 506.3L963.6 510.5L965.6 514.6L967.6 518.6L969.7 522.5L971.7 526.6L973.7 530.7L975.7 534.9L977.7 539.3L979.8 543.8L981.8 548.4L983.8 553.1L985.8 557.9L987.8 562.8L989.8 567.8L991.9 572.8L993.9 577.9L995.9 583L997.9 588.1L999.9 593.3L1002 598.5L1004 603.7L1006 609L1008 614.3M823.8 286.2L825.8 287.1L827.8 288.1L829.8 289.2L831.8 290.3L833.9 291.4L835.9 292.6L837.9 293.8L839.9 295L841.9 296.2L844 297.4L846 298.7L848 300L850 301.4L852 302.8L854.1 304.2L856.1 305.8L858.1 307.4L860.1 309.1L862.1 310.9L864.2 312.7L866.2 314.6L868.2 316.6L870.2 318.6L872.2 320.7L874.2 322.8L876.3 325L878.3 327.2L880.3 329.5L882.3 331.8L884.3 334.1L886.4 336.5L888.4 339L890.4 341.4L892.4 344L894.4 346.6L896.5 349.2L898.5 352L900.5 354.9L902.5 357.8L904.5 360.8L906.5 363.8L908.6 366.9L910.6 370L912.6 373.1L914.6 376.3L916.6 379.4L918.7 382.6L920.7 385.8L922.7 388.9L924.7 392.2L926.7 395.4L928.8 398.7L930.8 402L932.8 405.3L934.8 408.7L936.8 412L938.9 415.4L940.9 418.7L942.9 422.1L944.9 425.4L946.9 428.7L948.9 431.9L951 435.1L953 438.4L955 441.6L957 444.8L959 448L961.1 451.3L963.1 454.7L965.1 458.1L967.1 461.7L969.1 465.3L971.2 469.2L973.2 473.2L975.2 477.3L977.2 481.6L979.2 485.9L981.3 490.4L983.3 494.9L985.3 499.4L987.3 503.8L989.3 508.2L991.3 512.5L993.4 516.8L995.4 521L997.4 525.3L999.4 529.7L1001.4 534.1L1003.5 538.7L1005.5 543.4L1007.5 548.3L1009.5 553.2L1011.5 558.3L1013.6 563.5L1015.6 568.7L1017.6 574L1019.6 579.4L1021.6 584.8L1023.7 590.2L1025.7 595.6M841.4 272.2L843.4 273.2L845.5 274.2L847.5 275.2L849.5 276.2L851.5 277.1L853.5 278.1L855.6 279.1L857.6 280.1L859.6 281.2L861.6 282.2L863.6 283.4L865.7 284.5L867.7 285.7L869.7 287L871.7 288.3L873.7 289.8L875.7 291.2L877.8 292.8L879.8 294.4L881.8 296L883.8 297.8L885.8 299.6L887.9 301.4L889.9 303.4L891.9 305.4L893.9 307.4L895.9 309.5L898 311.7L900 313.9L902 316.2L904 318.5L906 320.9L908 323.3L910.1 325.8L912.1 328.3L914.1 330.9L916.1 333.5L918.1 336.3L920.2 339L922.2 341.9L924.2 344.7L926.2 347.6L928.2 350.6L930.3 353.6L932.3 356.6L934.3 359.6L936.3 362.7L938.3 365.7L940.4 368.9L942.4 372.1L944.4 375.3L946.4 378.6L948.4 382L950.4 385.4L952.5 388.9L954.5 392.5L956.5 396L958.5 399.6L960.5 403.3L962.6 406.9L964.6 410.6L966.6 414.2L968.6 417.9L970.6 421.5L972.7 425.1L974.7 428.7L976.7 432.2L978.7 435.6L980.7 439L982.8 442.3L984.8 445.5L986.8 448.6L988.8 451.8L990.8 455L992.8 458.3L994.9 461.8L996.9 465.4L998.9 469.2L1000.9 473.3L1002.9 477.5L1005 481.9L1007 486.5L1009 491.2L1011 496L1013 500.9L1015.1 505.7L1017.1 510.6L1019.1 515.4L1021.1 520.2L1023.1 525L1025.2 529.8L1027.2 534.7L1029.2 539.6L1031.2 544.5L1033.2 549.5L1035.2 554.6L1037.3 559.8L1039.3 565.1L1041.3 570.4L1043.3 575.7M859.1 264L861.1 264.6L863.1 265.3L865.1 266L867.2 266.7L869.2 267.4L871.2 268.1L873.2 268.9L875.2 269.8L877.2 270.7L879.3 271.6L881.3 272.6L883.3 273.6L885.3 274.7L887.3 275.8L889.4 276.9L891.4 278.1L893.4 279.4L895.4 280.7L897.4 282L899.5 283.5L901.5 284.9L903.5 286.5L905.5 288.2L907.5 289.9L909.6 291.7L911.6 293.6L913.6 295.6L915.6 297.6L917.6 299.7L919.6 301.9L921.7 304.2L923.7 306.5L925.7 308.8L927.7 311.2L929.7 313.6L931.8 316L933.8 318.5L935.8 321L937.8 323.5L939.8 326.1L941.9 328.7L943.9 331.3L945.9 334L947.9 336.8L949.9 339.6L951.9 342.4L954 345.3L956 348.3L958 351.3L960 354.3L962 357.4L964.1 360.6L966.1 363.8L968.1 367L970.1 370.2L972.1 373.5L974.2 376.8L976.2 380.2L978.2 383.6L980.2 387.1L982.2 390.6L984.3 394.3L986.3 398L988.3 401.9L990.3 405.8L992.3 409.8L994.3 413.8L996.4 417.8L998.4 421.7L1000.4 425.5L1002.4 429.1L1004.4 432.8L1006.5 436.4L1008.5 439.9L1010.5 443.5L1012.5 447.1L1014.5 450.7L1016.6 454.5L1018.6 458.5L1020.6 462.7L1022.6 467.1L1024.6 471.6L1026.7 476.3L1028.7 480.9L1030.7 485.5L1032.7 490.1L1034.7 494.6L1036.7 499.1L1038.8 503.6L1040.8 508.2L1042.8 512.9L1044.8 517.7L1046.8 522.5L1048.9 527.5L1050.9 532.6L1052.9 537.7L1054.9 542.9L1056.9 548.2L1059 553.6L1061 558.9M876.7 260.9L878.7 261.3L880.8 261.7L882.8 262.1L884.8 262.5L886.8 263L888.8 263.5L890.9 264.1L892.9 264.8L894.9 265.6L896.9 266.4L898.9 267.2L901 268.1L903 269L905 269.9L907 270.9L909 271.9L911.1 272.9L913.1 274L915.1 275.1L917.1 276.3L919.1 277.5L921.1 278.9L923.2 280.3L925.2 281.7L927.2 283.3L929.2 285L931.2 286.8L933.3 288.7L935.3 290.6L937.3 292.7L939.3 294.7L941.3 296.9L943.4 299L945.4 301.3L947.4 303.5L949.4 305.8L951.4 308.1L953.4 310.5L955.5 312.8L957.5 315.2L959.5 317.6L961.5 320L963.5 322.5L965.6 325L967.6 327.6L969.6 330.2L971.6 332.9L973.6 335.7L975.7 338.5L977.7 341.4L979.7 344.3L981.7 347.2L983.7 350.2L985.8 353.2L987.8 356.3L989.8 359.3L991.8 362.4L993.8 365.5L995.8 368.6L997.9 371.8L999.9 375.1L1001.9 378.4L1003.9 381.8L1005.9 385.2L1008 388.8L1010 392.4L1012 396.1L1014 399.8L1016 403.6L1018.1 407.5L1020.1 411.4L1022.1 415.2L1024.1 419.1L1026.1 423L1028.2 426.9L1030.2 430.7L1032.2 434.6L1034.2 438.6L1036.2 442.6L1038.2 446.7L1040.3 450.9L1042.3 455.2L1044.3 459.6L1046.3 464.1L1048.3 468.5L1050.4 473.1L1052.4 477.6L1054.4 482.2L1056.4 486.9L1058.4 491.7L1060.5 496.5L1062.5 501.5L1064.5 506.5L1066.5 511.6L1068.5 516.8L1070.6 522L1072.6 527.3L1074.6 532.6L1076.6 537.9L1078.6 543.2M894.4 261L896.4 261.4L898.4 261.9L900.4 262.4L902.5 262.9L904.5 263.4L906.5 263.9L908.5 264.5L910.5 265.2L912.6 265.8L914.6 266.5L916.6 267.3L918.6 268L920.6 268.8L922.6 269.7L924.7 270.6L926.7 271.5L928.7 272.4L930.7 273.4L932.7 274.4L934.8 275.5L936.8 276.6L938.8 277.7L940.8 278.9L942.8 280.1L944.9 281.4L946.9 282.8L948.9 284.3L950.9 285.8L952.9 287.4L954.9 289.1L957 290.9L959 292.8L961 294.7L963 296.8L965 298.9L967.1 301L969.1 303.3L971.1 305.5L973.1 307.8L975.1 310.1L977.2 312.5L979.2 314.9L981.2 317.3L983.2 319.7L985.2 322.1L987.3 324.6L989.3 327.1L991.3 329.6L993.3 332.1L995.3 334.6L997.3 337.1L999.4 339.6L1001.4 342.2L1003.4 344.8L1005.4 347.4L1007.4 350.1L1009.5 352.8L1011.5 355.6L1013.5 358.4L1015.5 361.3L1017.5 364.3L1019.6 367.4L1021.6 370.5L1023.6 373.7L1025.6 377L1027.6 380.3L1029.7 383.8L1031.7 387.3L1033.7 390.9L1035.7 394.5L1037.7 398.2L1039.7 402L1041.8 405.8L1043.8 409.7L1045.8 413.5L1047.8 417.4L1049.8 421.3L1051.9 425.3L1053.9 429.3L1055.9 433.3L1057.9 437.4L1059.9 441.5L1062 445.7L1064 450L1066 454.4L1068 458.8L1070 463.3L1072.1 467.9L1074.1 472.5L1076.1 477.3L1078.1 482.2L1080.1 487.1L1082.1 492.2L1084.2 497.4L1086.2 502.7L1088.2 508L1090.2 513.5L1092.2 519L1094.3 524.5L1096.3 530.1M912 264.4L914.1 265L916.1 265.5L918.1 266L920.1 266.6L922.1 267.2L924.1 267.9L926.2 268.6L928.2 269.3L930.2 270L932.2 270.8L934.2 271.6L936.3 272.4L938.3 273.3L940.3 274.1L942.3 275L944.3 276L946.4 276.9L948.4 277.9L950.4 278.9L952.4 279.9L954.4 280.9L956.4 281.9L958.5 283L960.5 284.1L962.5 285.3L964.5 286.5L966.5 287.7L968.6 289L970.6 290.4L972.6 291.8L974.6 293.3L976.6 294.8L978.7 296.5L980.7 298.2L982.7 299.9L984.7 301.8L986.7 303.7L988.8 305.6L990.8 307.6L992.8 309.7L994.8 311.7L996.8 313.8L998.8 315.8L1000.9 317.9L1002.9 320.1L1004.9 322.2L1006.9 324.3L1008.9 326.4L1011 328.6L1013 330.7L1015 332.9L1017 335L1019 337.2L1021.1 339.5L1023.1 341.8L1025.1 344.2L1027.1 346.6L1029.1 349.1L1031.2 351.6L1033.2 354.3L1035.2 357L1037.2 359.8L1039.2 362.7L1041.2 365.6L1043.3 368.7L1045.3 371.8L1047.3 375.1L1049.3 378.4L1051.3 381.8L1053.4 385.3L1055.4 388.8L1057.4 392.4L1059.4 396.1L1061.4 399.8L1063.5 403.6L1065.5 407.4L1067.5 411.3L1069.5 415.2L1071.5 419.1L1073.6 423.1L1075.6 427.1L1077.6 431.1L1079.6 435.2L1081.6 439.4L1083.6 443.6L1085.7 447.9L1087.7 452.3L1089.7 456.7L1091.7 461.2L1093.7 465.8L1095.8 470.5L1097.8 475.3L1099.8 480.2L1101.8 485.2L1103.8 490.3L1105.9 495.5L1107.9 500.8L1109.9 506.2L1111.9 511.7L1113.9 517.2M929.7 270.8L931.7 271.5L933.7 272.2L935.7 273L937.8 273.7L939.8 274.4L941.8 275.1L943.8 275.8L945.8 276.6L947.9 277.4L949.9 278.2L951.9 279L953.9 279.9L955.9 280.9L958 281.9L960 282.8L962 283.8L964 284.9L966 285.9L968 286.9L970.1 287.9L972.1 288.9L974.1 289.9L976.1 290.9L978.1 291.9L980.2 293L982.2 294L984.2 295.1L986.2 296.2L988.2 297.4L990.3 298.6L992.3 299.8L994.3 301L996.3 302.3L998.3 303.7L1000.3 305.1L1002.4 306.5L1004.4 307.9L1006.4 309.4L1008.4 310.9L1010.4 312.4L1012.5 314L1014.5 315.6L1016.5 317.2L1018.5 318.8L1020.5 320.5L1022.6 322.2L1024.6 323.9L1026.6 325.6L1028.6 327.4L1030.6 329.2L1032.7 331L1034.7 332.9L1036.7 334.8L1038.7 336.7L1040.7 338.7L1042.7 340.8L1044.8 343L1046.8 345.2L1048.8 347.5L1050.8 349.8L1052.8 352.3L1054.9 354.8L1056.9 357.4L1058.9 360.1L1060.9 363L1062.9 365.9L1065 368.9L1067 372L1069 375.2L1071 378.5L1073 381.9L1075.1 385.3L1077.1 388.9L1079.1 392.5L1081.1 396.2L1083.1 399.9L1085.1 403.7L1087.2 407.5L1089.2 411.3L1091.2 415.1L1093.2 419L1095.2 423L1097.3 427L1099.3 431L1101.3 435.2L1103.3 439.4L1105.3 443.6L1107.4 448L1109.4 452.4L1111.4 456.9L1113.4 461.4L1115.4 466.1L1117.5 470.8L1119.5 475.7L1121.5 480.6L1123.5 485.6L1125.5 490.8L1127.5 496L1129.6 501.3L1131.6 506.6M947.3 278.4L949.4 279.3L951.4 280.3L953.4 281.2L955.4 282.1L957.4 283L959.5 284L961.5 284.9L963.5 285.8L965.5 286.7L967.5 287.7L969.5 288.6L971.6 289.5L973.6 290.4L975.6 291.4L977.6 292.3L979.6 293.2L981.7 294.2L983.7 295.1L985.7 296.1L987.7 297.1L989.7 298.1L991.8 299.1L993.8 300.1L995.8 301.1L997.8 302.2L999.8 303.2L1001.8 304.2L1003.9 305.3L1005.9 306.3L1007.9 307.3L1009.9 308.4L1011.9 309.4L1014 310.4L1016 311.5L1018 312.5L1020 313.5L1022 314.6L1024.1 315.6L1026.1 316.7L1028.1 317.8L1030.1 318.9L1032.1 320.1L1034.2 321.2L1036.2 322.4L1038.2 323.7L1040.2 324.9L1042.2 326.2L1044.2 327.5L1046.3 328.9L1048.3 330.3L1050.3 331.8L1052.3 333.3L1054.3 334.9L1056.4 336.5L1058.4 338.2L1060.4 340L1062.4 341.8L1064.4 343.7L1066.5 345.7L1068.5 347.8L1070.5 350L1072.5 352.2L1074.5 354.6L1076.6 357L1078.6 359.6L1080.6 362.2L1082.6 365L1084.6 367.8L1086.6 370.7L1088.7 373.8L1090.7 376.9L1092.7 380.2L1094.7 383.5L1096.7 386.9L1098.8 390.4L1100.8 393.9L1102.8 397.6L1104.8 401.2L1106.8 405L1108.9 408.7L1110.9 412.6L1112.9 416.5L1114.9 420.4L1116.9 424.4L1119 428.5L1121 432.7L1123 436.9L1125 441.2L1127 445.6L1129 450L1131.1 454.5L1133.1 459.1L1135.1 463.8L1137.1 468.5L1139.1 473.3L1141.2 478.1L1143.2 483L1145.2 487.9L1147.2 492.8L1149.2 497.8M965 287.7L967 288.6L969 289.6L971 290.6L973.1 291.5L975.1 292.5L977.1 293.5L979.1 294.4L981.1 295.4L983.2 296.3L985.2 297.3L987.2 298.3L989.2 299.2L991.2 300.2L993.3 301.2L995.3 302.3L997.3 303.3L999.3 304.3L1001.3 305.3L1003.3 306.3L1005.4 307.3L1007.4 308.3L1009.4 309.3L1011.4 310.3L1013.4 311.3L1015.5 312.2L1017.5 313.1L1019.5 314L1021.5 314.9L1023.5 315.8L1025.6 316.6L1027.6 317.5L1029.6 318.3L1031.6 319.2L1033.6 320L1035.7 320.8L1037.7 321.6L1039.7 322.4L1041.7 323.3L1043.7 324.1L1045.7 324.9L1047.8 325.7L1049.8 326.6L1051.8 327.4L1053.8 328.3L1055.8 329.2L1057.9 330.1L1059.9 331.1L1061.9 332.1L1063.9 333.1L1065.9 334.1L1068 335.2L1070 336.4L1072 337.6L1074 338.9L1076 340.2L1078.1 341.6L1080.1 343.1L1082.1 344.8L1084.1 346.5L1086.1 348.3L1088.1 350.3L1090.2 352.4L1092.2 354.5L1094.2 356.8L1096.2 359.1L1098.2 361.6L1100.3 364.1L1102.3 366.7L1104.3 369.4L1106.3 372.1L1108.3 375L1110.4 377.9L1112.4 381L1114.4 384.2L1116.4 387.6L1118.4 391L1120.5 394.5L1122.5 398L1124.5 401.6L1126.5 405.3L1128.5 409L1130.5 412.7L1132.6 416.5L1134.6 420.3L1136.6 424.3L1138.6 428.3L1140.6 432.3L1142.7 436.5L1144.7 440.8L1146.7 445.1L1148.7 449.5L1150.7 453.9L1152.8 458.5L1154.8 463L1156.8 467.7L1158.8 472.5L1160.8 477.4L1162.9 482.5L1164.9 487.6L1166.9 492.8M982.6 297.1L984.7 298.1L986.7 299.1L988.7 300.1L990.7 301.1L992.7 302.2L994.8 303.2L996.8 304.3L998.8 305.3L1000.8 306.4L1002.8 307.5L1004.8 308.5L1006.9 309.6L1008.9 310.6L1010.9 311.7L1012.9 312.7L1014.9 313.8L1017 314.8L1019 315.8L1021 316.7L1023 317.7L1025 318.7L1027.1 319.6L1029.1 320.6L1031.1 321.5L1033.1 322.4L1035.1 323.2L1037.2 324.1L1039.2 324.9L1041.2 325.6L1043.2 326.4L1045.2 327.1L1047.2 327.8L1049.3 328.5L1051.3 329.1L1053.3 329.8L1055.3 330.4L1057.3 331.1L1059.4 331.7L1061.4 332.4L1063.4 333L1065.4 333.7L1067.4 334.4L1069.5 335.1L1071.5 335.8L1073.5 336.5L1075.5 337.3L1077.5 338L1079.6 338.8L1081.6 339.6L1083.6 340.4L1085.6 341.2L1087.6 342L1089.6 342.9L1091.7 343.9L1093.7 344.9L1095.7 346L1097.7 347.2L1099.7 348.5L1101.8 350L1103.8 351.7L1105.8 353.7L1107.8 355.8L1109.8 358L1111.9 360.4L1113.9 362.8L1115.9 365.3L1117.9 367.8L1119.9 370.3L1122 372.8L1124 375.4L1126 378.1L1128 380.9L1130 383.7L1132 386.7L1134.1 389.8L1136.1 393L1138.1 396.3L1140.1 399.6L1142.1 403L1144.2 406.4L1146.2 409.9L1148.2 413.5L1150.2 417.1L1152.2 420.8L1154.3 424.5L1156.3 428.3L1158.3 432.3L1160.3 436.3L1162.3 440.5L1164.4 444.9L1166.4 449.3L1168.4 453.8L1170.4 458.5L1172.4 463.2L1174.4 468L1176.5 472.9L1178.5 478L1180.5 483.3L1182.5 488.6L1184.5 494M1000.3 307.1L1002.3 308.2L1004.3 309.3L1006.4 310.4L1008.4 311.5L1010.4 312.6L1012.4 313.7L1014.4 314.8L1016.4 315.8L1018.5 316.9L1020.5 317.9L1022.5 319L1024.5 320L1026.5 321L1028.6 322L1030.6 323L1032.6 324L1034.6 324.9L1036.6 325.8L1038.7 326.7L1040.7 327.5L1042.7 328.3L1044.7 329.1L1046.7 329.9L1048.7 330.7L1050.8 331.5L1052.8 332.2L1054.8 333L1056.8 333.8L1058.8 334.6L1060.9 335.4L1062.9 336.2L1064.9 336.9L1066.9 337.7L1068.9 338.4L1071 339.2L1073 339.9L1075 340.6L1077 341.3L1079 341.9L1081.1 342.6L1083.1 343.2L1085.1 343.8L1087.1 344.4L1089.1 344.9L1091.1 345.4L1093.2 345.8L1095.2 346.2L1097.2 346.6L1099.2 347L1101.2 347.6L1103.3 348.4L1105.3 349.4L1107.3 350.5L1109.3 351.7L1111.3 352.8L1113.4 353.9L1115.4 355.1L1117.4 356.5L1119.4 358L1121.4 359.7L1123.5 361.6L1125.5 363.6L1127.5 365.7L1129.5 368.1L1131.5 370.5L1133.5 373L1135.6 375.6L1137.6 378.1L1139.6 380.6L1141.6 383.1L1143.6 385.7L1145.7 388.4L1147.7 391.1L1149.7 393.9L1151.7 396.8L1153.7 399.9L1155.8 403L1157.8 406.1L1159.8 409.3L1161.8 412.6L1163.8 415.9L1165.9 419.3L1167.9 422.9L1169.9 426.5L1171.9 430.2L1173.9 434L1175.9 437.9L1178 442L1180 446L1182 450.2L1184 454.4L1186 458.6L1188.1 462.9L1190.1 467.3L1192.1 471.7L1194.1 476.2L1196.1 480.8L1198.2 485.5L1200.2 490.2L1202.2 495M1053.2 335.1L1055.3 336L1057.3 336.9L1059.3 337.9L1061.3 338.8L1063.3 339.7L1065.4 340.7L1067.4 341.6L1069.4 342.5L1071.4 343.4L1073.4 344.3L1075.5 345.2L1077.5 346.1L1079.5 347L1081.5 347.9L1083.5 348.8L1085.6 349.7L1087.6 350.6L1089.6 351.5L1091.6 352.4L1093.6 353.3L1095.6 354.2L1097.7 355.1L1099.7 356L1101.7 356.9L1103.7 357.9L1105.7 359L1107.8 360.2L1109.8 361.5L1111.8 362.7L1113.8 364L1115.8 365.2L1117.9 366.4L1119.9 367.6L1121.9 368.8L1123.9 370L1125.9 371.2L1128 372.3L1130 373.5L1132 374.8L1134 376L1136 377.3L1138 378.7L1140.1 379.9L1142.1 381L1144.1 381.8L1146.1 382.3L1148.1 382.5L1150.2 382.3L1152.2 381.8L1154.2 381.5L1156.2 382.1L1158.2 383L1160.3 384.4L1162.3 386L1164.3 387.8L1166.3 389.4L1168.3 391.1L1170.4 392.8L1172.4 394.6L1174.4 396.4L1176.4 398.5L1178.4 400.4L1180.4 402.3L1182.5 404.1L1184.5 405.9L1186.5 408L1188.5 410.5L1190.5 413.2L1192.6 415.9L1194.6 418.8L1196.6 421.9L1198.6 425L1200.6 428.1L1202.7 431.2L1204.7 434.5L1206.7 437.7L1208.7 440.9L1210.7 444.2L1212.8 447.7L1214.8 451.1L1216.8 454.6L1218.8 458.1L1220.8 461.6L1222.8 465.1L1224.9 469L1226.9 473L1228.9 477L1230.9 481L1232.9 485L1235 488.9L1237 492.9L1239 496.9L1241 500.9L1243 504.9L1245.1 509.2L1247.1 513.7L1249.1 518.4L1251.1 523.1L1253.1 527.7L1255.2 532.4" stroke-width="1.0"/>
</g>
<path d="M876.5 260L878.7 259.9L880.8 259.8L882.9 259.7L885.1 259.7L887.2 259.7L889.3 259.8L891.4 259.9L893.5 260.1L895.6 260.3L897.6 260.5L899.7 260.8L901.8 261.1L903.8 261.4L905.9 261.8L907.9 262.2L909.9 262.7L911.9 263.1L913.9 263.7L916 264.2L917.9 264.8L919.9 265.4L921.9 266L923.9 266.6L925.9 267.3L927.8 268L929.8 268.7L931.8 269.4L933.7 270.2L935.7 270.9L937.6 271.7L939.5 272.5L941.5 273.4L943.4 274.2L945.3 275.1L947.2 275.9L949.1 276.8L951 277.7L952.9 278.6L954.8 279.5L956.7 280.4L958.6 281.3L960.5 282.2L962.4 283.2L964.3 284.1L966.2 285L968 286L969.9 286.9L971.8 287.9L973.7 288.8L975.5 289.8L977.4 290.7L979.3 291.7L981.1 292.7L983 293.6L984.8 294.6L986.7 295.5L988.6 296.5L990.4 297.5L992.3 298.4L994.1 299.4L996 300.4L997.9 301.3L999.7 302.3L1001.6 303.2L1003.4 304.2L1005.3 305.2L1007.2 306.1L1009 307L1010.9 308L1012.8 308.9L1014.6 309.9L1016.5 310.8L1018.4 311.7L1020.3 312.6L1022.1 313.5L1024 314.4L1025.9 315.3L1027.8 316.2L1029.7 317.1L1031.6 318L1033.5 318.8L1035.4 319.7L1037.3 320.5L1039.2 321.4L1041.1 322.2L1043 323L1045 323.9L1046.9 324.7L1048.8 325.5L1050.7 326.3L1052.7 327.1L1054.6 327.9L1056.6 328.7L1058.5 329.4L1060.4 330.2L1062.4 331L1064.3 331.8L1066.2 332.6L1068.2 333.4L1070.1 334.1L1072.1 334.9L1074 335.7L1076 336.5L1077.9 337.3L1079.8 338.1L1081.8 338.9L1083.7 339.7L1085.6 340.5L1087.6 341.3L1089.5 342.1L1091.4 342.9L1093.4 343.8L1095.3 344.6L1097.2 345.4L1099.1 346.3L1101 347.1L1102.9 348L1104.8 348.9L1106.7 349.8L1108.6 350.7L1110.5 351.6L1112.4 352.5L1114.3 353.4L1116.2 354.4L1118 355.3L1119.9 356.3L1121.8 357.3L1123.6 358.3L1125.5 359.3L1127.3 360.3L1129.1 361.3L1130.9 362.3L1132.8 363.4L1134.6 364.4L1136.4 365.5L1138.2 366.6L1139.9 367.7L1141.7 368.8L1143.5 369.9L1145.3 371.1L1147 372.2L1148.7 373.4L1150.5 374.6L1152.2 375.8L1153.9 377L1155.6 378.2L1157.3 379.5L1158.9 380.7L1160.6 382L1162.2 383.3L1163.9 384.6L1165.5 385.9L1167.1 387.2L1168.7 388.6L1170.2 390L1171.8 391.4L1173.3 392.8L1174.8 394.2L1176.3 395.6L1177.8 397.1L1179.3 398.6L1180.7 400.1L1182.1 401.6L1183.5 403.2L1184.9 404.7L1186.3 406.3L1187.6 407.9L1188.9 409.5L1190.2 411.2L1191.5 412.8L1192.7 414.5L1194 416.2L1195.2 417.9L1196.4 419.6L1197.5 421.3L1198.7 423.1L1199.9 424.8L1201 426.6L1202.1 428.3L1203.2 430.1L1204.3 431.9L1205.4 433.7L1206.5 435.5L1207.6 437.3L1208.6 439.2L1209.7 441L1210.7 442.8L1211.8 444.7L1212.8 446.5L1213.8 448.3L1214.9 450.2L1215.9 452L1216.9 453.8L1217.9 455.7L1218.9 457.5L1219.9 459.3L1220.9 461.2L1221.9 463L1223 464.8L1223 466L1221.9 464.3L1220.9 462.7L1219.9 461L1218.9 459.3L1217.9 457.7L1216.9 456L1215.9 454.3L1214.9 452.6L1213.8 450.9L1212.8 449.3L1211.8 447.6L1210.7 445.9L1209.7 444.2L1208.6 442.5L1207.6 440.8L1206.5 439L1205.4 437.3L1204.3 435.6L1203.2 433.9L1202.1 432.3L1201 430.6L1199.9 428.9L1198.7 427.3L1197.5 425.6L1196.4 424L1195.2 422.4L1194 420.8L1192.7 419.2L1191.5 417.7L1190.2 416.1L1188.9 414.7L1187.6 413.2L1186.3 411.8L1184.9 410.4L1183.5 409L1182.1 407.6L1180.7 406.3L1179.3 404.9L1177.8 403.6L1176.3 402.4L1174.8 401.1L1173.3 399.9L1171.8 398.8L1170.2 397.7L1168.7 396.6L1167.1 395.6L1165.5 394.5L1163.9 393.5L1162.2 392.5L1160.6 391.6L1158.9 390.6L1157.3 389.5L1155.6 388.5L1153.9 387.6L1152.2 386.6L1150.5 385.6L1148.7 384.7L1147 383.8L1145.3 382.8L1143.5 381.7L1141.7 380.6L1139.9 379.5L1138.2 378.4L1136.4 377.4L1134.6 376.3L1132.8 375.3L1130.9 374.3L1129.1 373.3L1127.3 372.3L1125.5 371.3L1123.6 370.3L1121.8 369.4L1119.9 368.4L1118 367.5L1116.2 366.5L1114.3 365.5L1112.4 364.5L1110.5 363.5L1108.6 362.5L1106.7 361.5L1104.8 360.5L1102.9 359.6L1101 358.6L1099.1 357.7L1097.2 356.7L1095.3 355.8L1093.4 354.9L1091.4 354L1089.5 353.1L1087.6 352.2L1085.6 351.3L1083.7 350.4L1081.8 349.5L1079.8 348.7L1077.9 347.8L1076 347L1074 346.2L1072.1 345.3L1070.1 344.5L1068.2 343.6L1066.2 342.8L1064.3 341.9L1062.4 341.1L1060.4 340.3L1058.5 339.4L1056.6 338.6L1054.6 337.7L1052.7 336.9L1050.7 335.9L1048.8 335L1046.9 334.1L1045 333.2L1043 332.2L1041.1 331.3L1039.2 330.3L1037.3 329.4L1035.4 328.4L1033.5 327.4L1031.6 326.5L1029.7 325.5L1027.8 324.5L1025.9 323.5L1024 322.5L1022.1 321.4L1020.3 320.4L1018.4 319.4L1016.5 318.4L1014.6 317.4L1012.8 316.4L1010.9 315.4L1009 314.4L1007.2 313.4L1005.3 312.3L1003.4 311.3L1001.6 310.3L999.7 309.3L997.9 308.3L996 307.2L994.1 306.2L992.3 305.2L990.4 304.1L988.6 303.1L986.7 302.1L984.8 301L983 300L981.1 299L979.3 298L977.4 297L975.5 296L973.7 295.1L971.8 294.1L969.9 293.1L968 292.1L966.2 291.1L964.3 290.2L962.4 289.2L960.5 288.2L958.6 287.3L956.7 286.3L954.8 285.4L952.9 284.4L951 283.5L949.1 282.6L947.2 281.7L945.3 280.9L943.4 280L941.5 279.2L939.5 278.3L937.6 277.5L935.7 276.7L933.7 276L931.8 275.2L929.8 274.5L927.8 273.8L925.9 273.1L923.9 272.4L921.9 271.8L919.9 271.2L917.9 270.6L916 270L913.9 269.5L911.9 268.8L909.9 268.2L907.9 267.7L905.9 267.2L903.8 266.7L901.8 266.2L899.7 265.8L897.6 265.4L895.6 265.1L893.5 264.8L891.4 264.4L889.3 263.9L887.2 263.5L885.1 263.1L882.9 262.8L880.8 262.4L878.7 262.2L876.5 262.2Z" fill="#87ceff" fill-opacity="0.88" stroke="none"/>
<path d="M684.7 426.9L687.5 429.8L690.4 432.7L693.2 435.6L696.1 438.5L699 441.4L701.8 444.3L704.7 447.1L707.6 450L710.5 452.9L713.4 455.7L716.4 458.6L719.3 461.4L722.2 464.3L725.2 467.1L728.1 469.9L731.1 472.7L734.1 475.5L737.1 478.2L740.1 481L743.1 483.7L746.2 486.5L749.2 489.2L752.3 491.9L755.3 494.6L758.4 497.2L761.5 499.9L764.6 502.5L767.8 505.1L770.9 507.7L774.1 510.2L777.3 512.7L780.5 515.2L783.7 517.7L786.9 520.2L790.2 522.6L793.5 525L796.8 527.4L800.1 529.7L803.4 532.1L806.8 534.3L810.1 536.6L813.5 538.8L816.9 541L820.4 543.2L823.8 545.3L827.3 547.4L830.8 549.5L834.3 551.5L837.9 553.5L841.5 555.4L845.1 557.3L848.7 559.2L852.3 561.1L856 562.9L859.6 564.7L863.3 566.4L867 568.2L870.7 569.9L874.5 571.5L878.2 573.2L882 574.8L885.8 576.4L889.5 577.9L893.3 579.5L897.1 581L901 582.5L904.8 583.9L908.6 585.4L912.5 586.8L916.3 588.2L920.1 589.6L924 590.9L927.9 592.3L931.7 593.6L935.6 594.9L939.5 596.1L943.3 597.4L947.2 598.6L951.1 599.7L955 600.9L958.9 602L962.9 603L966.8 604.1L970.7 605.1L974.7 606L978.6 606.9L982.6 607.7L986.6 608.5L990.5 609.3L994.6 609.9L998.6 610.6L1002.6 611.1L1006.6 611.7L1010.7 612.1M701.8 400.7L704.4 403.9L707.1 407L709.8 410L712.5 413.1L715.2 416.2L717.9 419.2L720.6 422.2L723.4 425.2L726.1 428.2L728.9 431.2L731.8 434.1L734.6 437L737.4 440L740.3 442.8L743.2 445.7L746.1 448.5L749.1 451.3L752 454.1L755 456.9L758 459.6L761 462.3L764.1 465L767.1 467.7L770.2 470.3L773.3 472.9L776.5 475.4L779.6 478L782.8 480.5L786 483L789.3 485.4L792.5 487.8L795.8 490.2L799.1 492.5L802.5 494.8L805.8 497.1L809.2 499.4L812.6 501.6L816 503.8L819.5 505.9L822.9 508.1L826.4 510.2L829.9 512.2L833.4 514.3L836.9 516.3L840.5 518.3L844 520.3L847.6 522.2L851.2 524.1L854.8 526L858.4 527.9L862 529.8L865.7 531.6L869.3 533.4L873 535.2L876.7 536.9L880.4 538.7L884 540.4L887.8 542.1L891.5 543.7L895.2 545.3L898.9 546.9L902.7 548.5L906.4 550.1L910.2 551.6L914 553.1L917.8 554.6L921.6 556L925.4 557.4L929.2 558.8L933 560.2L936.9 561.5L940.7 562.8L944.6 564L948.4 565.3L952.3 566.5L956.2 567.6L960.1 568.8L964 569.9L967.9 570.9L971.8 572L975.8 573L979.7 574L983.7 574.9L987.6 575.8L991.6 576.7L995.5 577.6L999.5 578.4L1003.5 579.2L1007.5 580L1011.5 580.7L1015.5 581.4L1019.5 582.1L1023.6 582.7L1027.6 583.4L1031.6 584L1035.7 584.5M1243 522.7L1244.2 515L1244.7 507.6M723.3 375.1L725.9 378.2L728.6 381.2L731.3 384.3L734 387.3L736.6 390.4L739.3 393.4L742 396.4L744.7 399.5L747.4 402.5L750 405.5L752.8 408.5L755.5 411.5L758.2 414.5L761 417.5L763.7 420.5L766.5 423.4L769.3 426.3L772.1 429.3L775 432.1L777.9 435L780.8 437.9L783.7 440.7L786.7 443.4L789.7 446.2L792.7 448.9L795.8 451.5L798.9 454.2L802 456.7L805.2 459.2L808.4 461.7L811.7 464.1L815 466.4L818.3 468.7L821.6 471L825 473.2L828.5 475.3L831.9 477.4L835.4 479.5L838.9 481.5L842.4 483.5L846 485.5L849.5 487.4L853.1 489.3L856.7 491.1L860.3 493L864 494.8L867.6 496.6L871.3 498.3L874.9 500.1L878.6 501.8L882.3 503.5L886 505.2L889.6 506.9L893.3 508.5L897 510.2L900.7 511.8L904.4 513.4L908.2 515L911.9 516.6L915.6 518.2L919.4 519.7L923.1 521.2L926.9 522.7L930.6 524.1L934.4 525.6L938.2 527L942 528.4L945.8 529.7L949.6 531.1L953.5 532.4L957.3 533.6L961.2 534.9L965 536.1L968.9 537.3L972.8 538.4L976.7 539.5L980.6 540.6L984.5 541.7L988.5 542.7L992.4 543.7L996.4 544.6L1000.3 545.5L1004.3 546.4L1008.3 547.3L1012.2 548.1L1016.2 548.9L1020.2 549.7L1024.2 550.4L1028.2 551.2L1032.2 551.8L1036.2 552.5L1040.2 553.1L1044.2 553.7L1048.2 554.3L1052.3 554.8L1056.3 555.3L1060.3 555.8L1064.3 556.2M1223.2 508.7L1224.2 486.1L1223.2 464.6M752.2 346.9L754.1 350.6L756.1 354.3L758.1 358L760.2 361.5L762.4 365L764.6 368.5L766.9 371.9L769.2 375.3L771.6 378.6L774 381.8L776.5 385.1L779.1 388.2L781.7 391.3L784.3 394.4L787 397.4L789.7 400.3L792.5 403.3L795.4 406.1L798.2 408.9L801.2 411.7L804.1 414.5L807.1 417.1L810.2 419.8L813.2 422.4L816.4 424.9L819.5 427.4L822.7 429.9L825.9 432.3L829.2 434.7L832.5 437.1L835.8 439.4L839.2 441.7L842.6 443.9L846 446.1L849.4 448.3L852.9 450.4L856.4 452.5L859.9 454.5L863.4 456.5L867 458.5L870.6 460.4L874.2 462.4L877.8 464.2L881.4 466.1L885.1 467.9L888.7 469.7L892.4 471.4L896.1 473.1L899.8 474.8L903.6 476.5L907.3 478.1L911 479.7L914.8 481.3L918.6 482.9L922.3 484.4L926.1 485.9L929.9 487.4L933.7 488.8L937.5 490.2L941.3 491.6L945.1 493L948.9 494.4L952.7 495.7L956.6 497L960.4 498.2L964.3 499.5L968.1 500.7L972 501.9L975.9 503.1L979.8 504.2L983.7 505.3L987.5 506.4L991.5 507.5L995.4 508.6L999.3 509.6L1003.2 510.6L1007.1 511.6L1011.1 512.6L1015 513.5L1019 514.4L1022.9 515.3L1026.9 516.2L1030.8 517.1L1034.8 517.9L1038.8 518.7L1042.8 519.5L1046.8 520.2L1050.8 520.9L1054.8 521.5L1058.8 522.1L1062.8 522.6L1066.8 523.1L1070.9 523.5L1074.9 523.9L1079 524.2L1083 524.5L1087.1 524.6L1091.2 524.7L1095.2 524.8L1099.3 524.7L1103.4 524.6M1201.8 494.6L1202.7 490.4L1203.3 486.2L1203.7 482L1204 477.8L1204 473.6L1203.9 469.4L1203.6 465.3L1203.1 461.1L1202.5 456.9L1201.6 452.8L1200.7 448.7L1199.5 444.7L1198.3 440.6L1196.8 436.7L1195.3 432.7L1193.6 428.8L1191.7 425L1189.8 421.2L1187.7 417.4L1185.5 413.8L1183.2 410.2L1180.8 406.6L1178.3 403.2L1175.7 399.8L1173 396.5L1170.2 393.3L1167.3 390.2L1164.3 387.2L1161.3 384.2L1158.2 381.4L1155 378.7L1151.8 376.1L1148.6 373.6L1145.2 371.2M787.1 316.2L788.9 319.8L790.8 323.4L792.8 326.9L794.7 330.4L796.7 334L798.8 337.5L800.9 340.9L803 344.4L805.2 347.8L807.4 351.3L809.6 354.6L811.9 358L814.3 361.3L816.7 364.6L819.2 367.8L821.7 371L824.2 374.2L826.8 377.3L829.5 380.4L832.2 383.4L835 386.3L837.8 389.2L840.7 392.1L843.7 394.8L846.7 397.6L849.7 400.2L852.8 402.8L856 405.3L859.2 407.8L862.4 410.2L865.7 412.5L869 414.8L872.4 417L875.8 419.1L879.3 421.2L882.8 423.3L886.3 425.3L889.8 427.2L893.4 429.1L897 431L900.6 432.8L904.2 434.6L907.9 436.4L911.5 438.2L915.2 439.9L918.9 441.7L922.6 443.4L926.3 445.1L930 446.9L933.7 448.6L937.4 450.3L941.1 452.1L944.7 453.8L948.4 455.6L952.1 457.4L955.7 459.2L959.4 460.9L963 462.7L966.7 464.4L970.4 466.1L974.1 467.7L977.8 469.3L981.5 470.7L985.3 472.1L989.1 473.4L992.9 474.5L996.8 475.6L1000.7 476.6L1004.7 477.5L1008.6 478.3L1012.6 479.1L1016.6 479.8L1020.6 480.6L1024.6 481.3L1028.6 482.1L1032.6 482.8L1036.6 483.6L1040.6 484.4L1044.6 485.1L1048.6 485.8L1052.6 486.5L1056.6 487.1L1060.6 487.6L1064.6 488.1L1068.5 488.4L1072.5 488.7L1076.5 489L1080.5 489.1L1084.6 489.3L1088.6 489.4L1092.7 489.5L1096.8 489.6L1100.8 489.6L1104.9 489.6L1109 489.5L1113.1 489.3L1117.2 489L1121.3 488.7L1125.3 488.3L1129.4 487.8L1133.4 487.1L1137.4 486.4L1141.4 485.5L1145.4 484.5L1149.3 483.4L1153.2 482.1L1157 480.7L1160.8 479L1164.5 477.2L1168 475.2L1171.2 472.9L1174.2 470.3L1176.8 467.4L1179 464.2L1180.8 460.8L1182.2 457.1L1183.2 453.3L1183.8 449.4L1183.9 445.5L1183.7 441.5L1183.1 437.5L1182.3 433.5L1181.1 429.5L1179.7 425.6L1178 421.7L1176.2 417.8L1174.3 414.1L1172.2 410.4L1170 406.9L1167.8 403.4L1165.5 400.1L1163.1 396.9L1160.8 393.8L1158.3 390.7L1155.8 387.7L1153.2 384.7L1150.5 381.8L1147.8 378.8L1144.9 375.8L1142 372.7M823.4 285.9L824 290L824.7 294.1L825.6 298.2L826.7 302.1L827.9 306L829.2 309.9L830.7 313.6L832.3 317.3L834.1 320.9L836 324.5L838 328L840.1 331.4L842.3 334.8L844.7 338.1L847.1 341.3L849.7 344.5L852.3 347.6L855 350.6L857.8 353.5L860.7 356.4L863.6 359.3L866.6 362L869.7 364.7L872.8 367.3L876 369.9L879.2 372.4L882.5 374.8L885.8 377.2L889.1 379.5L892.5 381.7L895.9 383.9L899.4 386.1L902.9 388.2L906.4 390.3L909.9 392.3L913.4 394.3L917 396.2L920.6 398.2L924.2 400.1L927.8 402L931.4 403.8L935 405.7L938.6 407.5L942.3 409.3L945.9 411.1L949.5 412.9L953.2 414.7L956.8 416.4L960.5 418.1L964.2 419.8L967.9 421.5L971.6 423.1L975.3 424.7L979 426.3L982.7 427.9L986.5 429.5L990.3 431L994 432.5L997.8 433.9L1001.7 435.4L1005.5 436.8L1009.3 438.2L1013.2 439.5L1017.1 440.8L1021 442.1L1024.9 443.3L1028.8 444.4L1032.8 445.5L1036.7 446.6L1040.7 447.5L1044.7 448.4L1048.6 449.2L1052.6 449.9L1056.6 450.5L1060.5 451L1064.5 451.4L1068.5 451.7L1072.4 451.9L1076.4 452L1080.4 452L1084.4 451.9L1088.4 451.7L1092.5 451.5L1096.6 451.2L1100.7 450.8L1104.8 450.4L1108.9 449.8L1113.1 449.3L1117.4 448.7L1121.6 447.9L1125.8 447.1L1129.9 446.2L1133.9 445L1137.8 443.7L1141.5 442.1L1144.9 440.2L1148 438.1L1150.8 435.5L1153.3 432.6L1155.4 429.4L1157 425.9L1158.2 422.2L1158.8 418.3L1159 414.3L1158.6 410.3L1157.8 406.2L1156.6 402.2L1155 398.3L1153.2 394.5L1151 390.8L1148.7 387.3L1146.3 383.9L1143.8 380.6L1141.2 377.5L1138.8 374.5L1136.4 371.6M887.4 264.3L883.3 264.2L879.2 264.9L875.2 266.3L871.6 268.4L868.3 271.1L865.7 274.2L863.7 277.7L862.5 281.6L862.1 285.6L862.5 289.7L863.3 293.9L864.5 297.9L866 301.8L867.6 305.5L869.5 309.1L871.6 312.5L873.8 315.8L876.2 318.9L878.8 322L881.5 325L884.3 327.8L887.3 330.6L890.3 333.3L893.4 335.9L896.6 338.5L899.8 341L903.1 343.5L906.4 345.9L909.7 348.3L913.1 350.7L916.4 353.1L919.8 355.4L923.2 357.7L926.6 359.9L930 362.1L933.4 364.3L936.9 366.4L940.4 368.5L943.9 370.5L947.4 372.5L950.9 374.5L954.5 376.4L958.1 378.3L961.7 380.1L965.3 381.9L968.9 383.7L972.6 385.3L976.3 387L980 388.6L983.7 390.1L987.5 391.6L991.2 393L995 394.4L998.8 395.7L1002.7 397L1006.5 398.2L1010.4 399.3L1014.3 400.4L1018.2 401.4L1022.2 402.4L1026.2 403.3L1030.2 404.1L1034.2 404.9L1038.2 405.6L1042.3 406.2L1046.4 406.8L1050.5 407.2L1054.5 407.6L1058.6 407.8L1062.7 407.9L1066.8 408L1070.8 407.9L1074.9 407.6L1078.9 407.2L1082.9 406.7L1086.9 406L1090.8 405.2L1094.7 404.2L1098.6 403L1102.4 401.7L1106.2 400.1L1109.9 398.4L1113.5 396.5L1116.9 394.3L1119.7 391.8L1121.8 388.8L1122.8 385.4L1122.6 381.5L1121.3 377.3L1119.1 373.1L1116.3 369L1113.1 365.1L1109.9 361.4L1106.9 358L1104.3 354.9L1102.6 352.4L1101.8 350.3M976.3 337.1L972.4 335.3L968.6 333.5L965 331.6L961.4 329.5L957.9 327.4L954.4 325.2L951 323L947.7 320.6L944.4 318.2L941.1 315.7L937.8 313.1L934.5 310.4L931.2 307.7L928 304.9L924.8 302L922.1 298.8L920 295.4L918.8 291.7L918.8 287.6L920 283.5L922.5 280.6L926 279.8L930.3 280.7L934.8 282.1L939.2 283.3L943.4 284.2L947.4 285L951.3 286L955 287.4L958.6 289.2L962.1 291.3L965.5 293.7L968.8 296.2L972.2 298.8L975.5 301.5L978.7 304.1L981.9 306.8L985 309.6L987.9 312.5L990.7 315.5L993.3 318.6L995.7 322L997.8 325.5L999.6 329.3L998.9 336.9L995.7 338L983.8 336.4L976.3 336.9" fill="none" stroke="#c46208" stroke-width="1.5" stroke-linejoin="round" stroke-linecap="round"/>
<path d="M907.1 262.8L909.2 263.2L911.3 263.7L913.4 264.2L915.5 264.8L917.6 265.3L919.6 265.9L921.7 266.5L923.8 267.2L925.8 267.8L927.9 268.5L929.9 269.3L931.9 270L934 270.8L936 271.5L938 272.3L940 273.2L942 274L944 274.8L946 275.7L948 276.6L949.9 277.5L951.9 278.4L953.9 279.4L955.9 280.3L957.8 281.2L959.8 282.2L961.7 283.2L963.7 284.2L965.7 285.2L967.6 286.2L969.6 287.2L971.5 288.2L973.4 289.2L975.4 290.2L977.3 291.2L979.3 292.3L981.2 293.3L983.2 294.3L985.1 295.3L987 296.4L989 297.4L990.9 298.4L992.9 299.4L994.8 300.4L996.7 301.4L998.7 302.4L1000.6 303.4L1002.6 304.4L1004.5 305.4L1006.5 306.4L1008.4 307.4L1010.4 308.3L1012.3 309.3L1014.3 310.2L1016.3 311.2L1018.2 312.1L1020.2 313L1022.2 313.9L1024.1 314.9L1026.1 315.8L1028.1 316.7L1030 317.6L1032 318.5L1034 319.3L1036 320.2L1038 321.1L1040 322L1041.9 322.8L1043.9 323.7L1045.9 324.6L1047.9 325.4L1049.9 326.3L1051.9 327.1L1053.9 328L1055.9 328.8L1057.9 329.6L1060 330.5L1062 331.3L1064 332.1L1066 332.9L1068 333.8L1070 334.6L1072 335.4L1074.1 336.2L1076.1 337.1L1078.1 337.9L1080.1 338.7L1082.1 339.6L1084.1 340.4L1086.1 341.3L1088.1 342.1L1090.1 343L1092.1 343.8L1094.1 344.7L1096.1 345.6L1098.1 346.5L1100.1 347.4L1102.1 348.3L1104.1 349.2L1106.1 350.1L1108 351L1110 352L1112 352.9L1113.9 353.9L1115.9 354.9L1117.8 355.9L1119.8 356.9L1121.7 357.9L1123.6 358.9L1125.5 359.9L1127.5 361L1129.4 362.1L1131.2 363.1L1133.1 364.2L1135 365.3L1136.9 366.4L1138.7 367.6L1140.6 368.7L1142.4 369.9L1144.3 371L1146.1 372.2L1147.9 373.4L1149.7 374.6L1151.5 375.9L1153.3 377.1L1155.1 378.4L1156.8 379.7L1158.6 381L1160.3 382.3L1162 383.6L1163.7 384.9L1165.4 386.3L1167.1 387.7L1168.8 389.1L1170.4 390.5L1172.1 391.9L1173.7 393.4L1175.3 394.9L1176.9 396.3L1178.5 397.8" fill="none" stroke="#c46208" stroke-width="1.0" stroke-dasharray="1 2"/>
<path d="M889.8 263.5L892 263.7L894.2 263.9L896.4 264.1L898.5 264.4L900.7 264.7L902.8 265.1L905 265.5L907.1 265.9L909.2 266.3L911.3 266.8L913.4 267.3L915.5 267.9L917.6 268.4L919.6 269L921.7 269.6L923.8 270.3L925.8 270.9L927.9 271.6L929.9 272.4L931.9 273.1L934 273.9L936 274.6L938 275.4L940 276.3L942 277.1L944 277.9L946 278.8L948 279.7L949.9 280.6L951.9 281.5L953.9 282.5L955.9 283.4L957.8 284.3L959.8 285.3L961.7 286.3L963.7 287.3L965.7 288.3L967.6 289.3L969.6 290.3L971.5 291.3L973.4 292.3L975.4 293.3L977.3 294.3L979.3 295.4L981.2 296.4L983.2 297.4L985.1 298.4L987 299.5L989 300.5L990.9 301.5L992.9 302.5L994.8 303.5L996.7 304.5L998.7 305.5" fill="none" stroke="#c46208" stroke-width="1.2" stroke-dasharray="5 2"/>
<path d="M1000.6 306.1L1002.6 307.1L1004.5 308.1L1006.5 309.1L1008.4 310.1L1010.4 311L1012.3 312L1014.3 312.9L1016.3 313.9L1018.2 314.8L1020.2 315.7L1022.2 316.6L1024.1 317.6L1026.1 318.5L1028.1 319.4L1030 320.3L1032 321.2L1034 322L1036 322.9L1038 323.8L1040 324.7L1041.9 325.5L1043.9 326.4L1045.9 327.3L1047.9 328.1L1049.9 329L1051.9 329.8L1053.9 330.7L1055.9 331.5L1057.9 332.3L1060 333.2L1062 334L1064 334.8L1066 335.6L1068 336.5L1070 337.3L1072 338.1L1074.1 338.9L1076.1 339.8L1078.1 340.6L1080.1 341.4L1082.1 342.3L1084.1 343.1L1086.1 344L1088.1 344.8L1090.1 345.7L1092.1 346.5L1094.1 347.4L1096.1 348.3L1098.1 349.2L1100.1 350.1L1102.1 351L1104.1 351.9L1106.1 352.8L1108 353.7L1110 354.7L1112 355.6L1113.9 356.6L1115.9 357.6L1117.8 358.6L1119.8 359.6L1121.7 360.6L1123.6 361.6L1125.5 362.6L1127.5 363.7L1129.4 364.8L1131.2 365.8L1133.1 366.9L1135 368L1136.9 369.1L1138.7 370.3L1140.6 371.4L1142.4 372.6L1144.3 373.7L1146.1 374.9L1147.9 376.1L1149.7 377.3" fill="none" stroke="#c46208" stroke-width="0.9" stroke-dasharray="2 3"/>
<path d="M1051.9 332.8L1053.9 333.7L1055.9 334.5L1057.9 335.3L1060 336.2L1062 337L1064 337.8L1066 338.6L1068 339.5L1070 340.3L1072 341.1L1074.1 341.9L1076.1 342.8L1078.1 343.6L1080.1 344.4L1082.1 345.3L1084.1 346.1L1086.1 347L1088.1 347.8L1090.1 348.7L1092.1 349.5L1094.1 350.4L1096.1 351.3L1098.1 352.2L1100.1 353.1L1102.1 354L1104.1 354.9L1106.1 355.8L1108 356.7L1110 357.7L1112 358.6L1113.9 359.6L1115.9 360.6L1117.8 361.6L1119.8 362.6L1121.7 363.6L1123.6 364.6L1125.5 365.6L1127.5 366.7L1129.4 367.8L1131.2 368.8L1133.1 369.9L1135 371L1136.9 372.1L1138.7 373.3" fill="none" stroke="#c46208" stroke-width="0.9" stroke-dasharray="3 2 1 2"/>
<path d="M805.3 516.4L806.4 514.9L807.4 513.4L808.5 511.9L809.5 510.4L810.5 508.9L811.6 507.4L812.6 505.9L813.6 504.4L814.7 502.9L815.7 501.4L816.7 499.8L817.7 498.3L818.7 496.8L819.7 495.2L820.8 493.7L821.8 492.2L822.8 490.6L823.8 489.1L824.8 487.6L825.8 486L826.9 484.5L827.9 483L828.9 481.5L829.9 479.9L831 478.4L832 476.9L833 475.4L834.1 473.9L835.1 472.4L836.2 470.9L837.3 469.4L838.3 467.9L839.4 466.4L840.5 464.9L841.6 463.4L842.7 462L843.8 460.5L845 459.1L846.1 457.6L847.2 456.2L848.4 454.8L849.6 453.4L850.8 452L852 450.6L853.2 449.3L854.4 447.9L855.6 446.6L856.9 445.2L858.1 443.9L859.4 442.6L860.7 441.3L862 440L863.3 438.7L864.6 437.5L866 436.2L867.3 434.9L868.6 433.7L870 432.4L871.3 431.2L872.7 430L874.1 428.7L875.4 427.5L876.8 426.3L878.2 425.1L879.5 423.8L880.9 422.6L882.3 421.4L883.7 420.2L885 419L886.4 417.7L887.8 416.5L889.1 415.3L890.5 414.1L891.9 412.8L893.2 411.6L894.6 410.3L895.9 409.1L897.2 407.8L898.6 406.6L899.9 405.3L901.2 404L902.5 402.7L903.8 401.4L905 400.1L906.3 398.8L907.6 397.5L908.8 396.1L910.1 394.8L911.3 393.5L912.6 392.1L913.8 390.8L915 389.4L916.3 388.1L917.5 386.7L918.7 385.4L920 384L921.2 382.6L922.4 381.3L923.6 379.9L924.8 378.6L926.1 377.2L927.3 375.8L928.5 374.4L929.7 373.1L930.9 371.7L932.2 370.3L933.4 369L934.6 367.6L935.8 366.2L937 364.9L938.3 363.5L939.5 362.1L940.7 360.8L942 359.4L943.2 358.1L944.5 356.7L945.7 355.4L947 354L948.2 352.7L949.5 351.3L950.7 350L952 348.7L953.3 347.3L954.6 346L955.9 344.7L957.2 343.5L958.5 342.2L959.9 341L961.3 339.8L962.7 338.7L964.1 337.6L965.6 336.6L967.1 335.6L968.7 334.7L970.3 333.8L972 333.1L973.7 332.4L975.4 331.7L977.2 331.2L978.9 330.6L980.7 330.1L982.5 329.6L984.3 329.2L986.1 328.8L987.9 328.4L989.7 328L991.5 327.6L993.3 327.3L995.1 327L996.9 326.7L998.7 326.4L1000.5 326.2L1002.4 325.9L1004.2 325.7L1006 325.5L1007.9 325.3L1009.7 325.2L1011.5 325.1L1013.4 325L1015.2 325L1017 325.1L1018.8 325.2L1020.6 325.3L1022.4 325.6L1024.2 325.9L1026 326.2L1027.8 326.5L1029.6 326.9L1031.4 327.3L1033.2 327.8L1034.9 328.3L1036.7 328.8L1038.5 329.2L1040.3 329.7L1042 330.2L1043.8 330.7L1045.6 331.2L1047.3 331.7L1049.1 332.2L1050.9 332.7L1052.6 333.2L1054.4 333.7L1056.2 334.2L1057.9 334.7L1059.7 335.3L1061.4 335.8" fill="none" stroke="#a800a8" stroke-width="1.55" stroke-linejoin="round"/>
<path d="M1061.4 335.8L1063.2 336.3L1064.9 336.9L1066.7 337.4L1068.4 338L1070.2 338.5L1071.9 339.1L1073.6 339.7L1075.4 340.3L1077.1 340.9L1078.8 341.5L1080.6 342.1L1082.3 342.7L1084 343.4L1085.7 344L1087.4 344.7L1089.1 345.3L1090.8 346L1092.5 346.7L1094.2 347.4L1095.9 348.1L1097.6 348.8L1099.3 349.5L1101 350.2L1102.7 350.9L1104.4 351.7L1106 352.4L1107.7 353.2L1109.4 354L1111 354.7L1112.7 355.5L1114.3 356.3L1116 357.1L1117.6 357.9L1119.3 358.7L1120.9 359.6L1122.5 360.4L1124.1 361.3L1125.8 362.1L1127.4 363L1129 363.8L1130.6 364.7L1132.2 365.6L1133.8 366.5L1135.4 367.4L1137 368.4L1138.6 369.3L1140.1 370.2L1141.7 371.2L1143.3 372.1L1144.8 373.1L1146.4 374.1L1147.9 375L1149.5 376" fill="none" stroke="#a800a8" stroke-width="1.3" stroke-dasharray="3 2.5"/>
<path d="M664.5 590.6L664.5 232.1M664.9 232.1L1053.2 116.5M1053.2 116.5L1255.2 338.6M664.9 232.1L866.8 454.2M866.8 454.2L1255.2 338.6M866.5 454.2L866.5 812.7M1255.5 338.6L1255.5 697.1M664.9 590.6L866.8 812.7M866.8 812.7L1255.2 697.1M1255.5 338.6L1260.8 337M1255.5 358.7L1258.4 357.8M1255.5 378.7L1260.8 377.2M1255.5 398.8L1258.4 398M1255.5 418.9L1260.8 417.3M1255.5 439L1258.4 438.1M1255.5 459L1260.8 457.5M1255.5 479.1L1258.4 478.3M1255.5 499.2L1260.8 497.6M1255.5 519.3L1258.4 518.4M1255.5 539.3L1260.8 537.8M1255.5 559.4L1258.4 558.5M1255.5 579.5L1260.8 577.9M1255.5 599.5L1258.4 598.7M1255.5 619.6L1260.8 618M1255.5 639.7L1258.4 638.8M1255.5 659.8L1260.8 658.2M1255.5 679.8L1258.4 679M866.5 812.7L866.5 818.7M884.5 807.4L884.5 810.4M902.5 802.2L902.5 808.2M919.5 796.9L919.5 799.9M937.5 791.7L937.5 797.7M955.5 786.4L955.5 789.4M972.5 781.2L972.5 787.2M990.5 775.9L990.5 778.9M1008.5 770.7L1008.5 776.7M1025.5 765.4L1025.5 768.4M1043.5 760.2L1043.5 766.2M1060.5 754.9L1060.5 757.9M1078.5 749.6L1078.5 755.6M1096.5 744.4L1096.5 747.4M1113.5 739.1L1113.5 745.1M1131.5 733.9L1131.5 736.9M1149.5 728.6L1149.5 734.6M1166.5 723.4L1166.5 726.4M1184.5 718.1L1184.5 724.1M1202.5 712.9L1202.5 715.9M1219.5 707.6L1219.5 713.6M1237.5 702.4L1237.5 705.4M1255.5 697.1L1255.5 703.1M664.9 590.6L659.1 592.3M685.1 612.8L682.2 613.7M705.3 635L699.5 636.7M725.5 657.2L722.6 658.1M745.7 679.4L739.9 681.2M765.9 701.6L763 702.5M786 723.9L780.3 725.6M806.2 746.1L803.4 746.9M826.4 768.3L820.7 770M846.6 790.5L843.7 791.3M866.8 812.7L861 814.4" fill="none" stroke="#000" stroke-width="1"/>
<text x="960.5" y="97.9" font-family="'Liberation Sans', sans-serif" font-size="33" fill="#000" text-anchor="middle">Colline de rendement à Re=7000000</text>
<g font-family="'Liberation Sans', sans-serif" font-size="9.6" fill="#000">
<text x="1264" y="336.5">0.95</text>
<text x="1264" y="376.6">0.94</text>
<text x="1264" y="416.8">0.93</text>
<text x="1264" y="456.9">0.92</text>
<text x="1264" y="497.1">0.91</text>
<text x="1264" y="537.2">0.9</text>
<text x="1264" y="577.4">0.89</text>
<text x="1264" y="617.5">0.88</text>
<text x="1264" y="657.7">0.87</text>
<text x="860.5" y="832">13</text>
<text x="895.8" y="821.5">14</text>
<text x="931.1" y="811">15</text>
<text x="966.4" y="800.5">16</text>
<text x="1001.7" y="790">17</text>
<text x="1037" y="779.5">18</text>
<text x="1072.3" y="768.9">19</text>
<text x="1107.8" y="758.4">20</text>
<text x="1143.1" y="747.9">21</text>
<text x="1178.4" y="737.4">22</text>
<text x="1213.7" y="726.9">23</text>
<text x="1249.1" y="716.4">24</text>
<text x="643.4" y="598">50</text>
<text x="683.8" y="642.4">52</text>
<text x="724.2" y="686.8">54</text>
<text x="764.5" y="731.3">56</text>
<text x="804.9" y="775.7">58</text>
<text x="845.4" y="820.1">60</text>
</g>
<g font-family="'Liberation Sans', sans-serif" font-size="17.2" fill="#000" stroke="#000" stroke-width="0.45">
<text x="1290.3" y="513.7">Rendement (-)</text>
<text x="661.7" y="714.8">n11 (tpm)</text>
<text x="983.6" y="800.8">Ouverture (degrés)</text>
</g>
<g font-family="'Liberation Sans', sans-serif" font-size="9.6" fill="#c46208">
<text x="811" y="528.8">0.900</text>
<text x="827" y="503">0.905</text>
<text x="846" y="477.5">0.910</text>
<text x="869" y="451.5">0.915</text>
<text x="1001.5" y="331.5">0.935</text>
<text x="1118" y="392">0.930</text>
<text x="1131" y="440.7">0.925</text>
<text x="1146" y="479.5">0.920</text>
<text x="1145" y="365.3">0.915</text>
<text x="1227" y="479.5">0.910</text>
<text x="1246" y="510">0.905</text>
<text x="1056" y="323.5">0.905</text>
<text x="1056.6" y="323">0.910</text>
<text x="1057.4" y="322.6">0.915</text>
<text x="1060.6" y="323.2">0.900</text>
</g>
</svg>
</body></html>
